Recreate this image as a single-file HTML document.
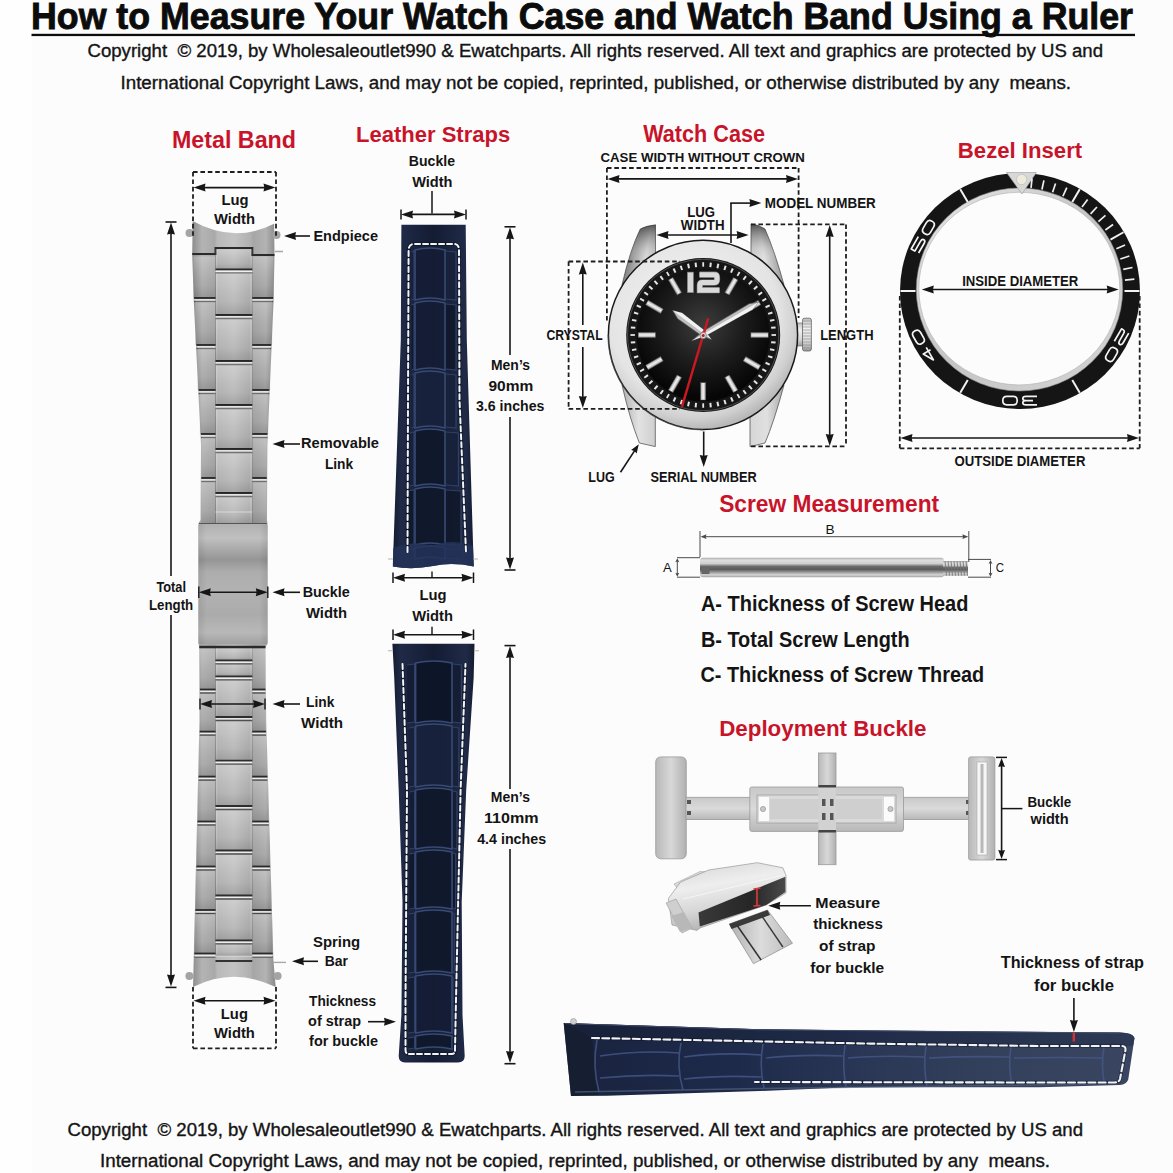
<!DOCTYPE html>
<html><head><meta charset="utf-8"><title>How to Measure Your Watch Case and Watch Band</title>
<style>html,body{margin:0;padding:0;background:#fdfdfd;width:1173px;height:1173px;overflow:hidden}</style></head>
<body><svg width="1173" height="1173" viewBox="0 0 1173 1173" style="display:block;font-family:'Liberation Sans',sans-serif">
<rect width="1173" height="1173" fill="#fcfcfc"/><rect width="32" height="1173" fill="#fefefe"/>
<rect x="31.5" y="33.8" width="1103.5" height="2.3" fill="#0c0c0c" />
<defs>
<linearGradient id="mbg" x1="0" x2="1" y1="0" y2="0">
<stop offset="0" stop-color="#8c8c8c"/><stop offset="0.12" stop-color="#b4b4b4"/><stop offset="0.27" stop-color="#a9a9a9"/>
<stop offset="0.30" stop-color="#b9b9b9"/><stop offset="0.5" stop-color="#c3c3c3"/><stop offset="0.70" stop-color="#b0b0b0"/>
<stop offset="0.73" stop-color="#a6a6a6"/><stop offset="0.88" stop-color="#b3b3b3"/><stop offset="1" stop-color="#8a8a8a"/>
</linearGradient>
<linearGradient id="clg" x1="0" x2="0" y1="0" y2="1">
<stop offset="0" stop-color="#b0b0b0"/><stop offset="0.12" stop-color="#c0c0c0"/><stop offset="0.22" stop-color="#a8a8a8"/>
<stop offset="0.30" stop-color="#959595"/><stop offset="0.40" stop-color="#adadad"/><stop offset="0.55" stop-color="#b2b2b2"/>
<stop offset="0.75" stop-color="#ababab"/><stop offset="0.9" stop-color="#b8b8b8"/><stop offset="1" stop-color="#a0a0a0"/>
</linearGradient>
<linearGradient id="lsh" x1="0" x2="0" y1="0" y2="1">
<stop offset="0" stop-color="#fff" stop-opacity="0.22"/><stop offset="0.35" stop-color="#fff" stop-opacity="0.05"/>
<stop offset="0.7" stop-color="#000" stop-opacity="0.04"/><stop offset="1" stop-color="#000" stop-opacity="0.16"/></linearGradient>
<linearGradient id="clh" x1="0" x2="1" y1="0" y2="0">
<stop offset="0" stop-color="#000" stop-opacity="0.08"/><stop offset="0.12" stop-color="#000" stop-opacity="0"/>
<stop offset="0.88" stop-color="#000" stop-opacity="0"/><stop offset="1" stop-color="#000" stop-opacity="0.08"/>
</linearGradient>
</defs>
<path d="M 192.7 221 Q 234 244 274.1 223.8 L 274.5 254 L 273.6 300 L 267.4 445 L 267 520 L 267.5 523 L 267.5 644 L 265.5 647 L 266.2 720 L 273.4 960 L 275.7 987 Q 234 966.6 193 987 L 193.7 960 L 199.5 720 L 199.3 647 L 198.5 644 L 198.5 523 L 200.5 520 L 201 445 L 193.7 300 L 192.2 254 L 192.7 221 Z" fill="url(#mbg)"/>
<circle cx="189.5" cy="233" r="4" fill="#a4a4a4"/>
<circle cx="276.5" cy="235" r="4" fill="#a4a4a4"/>
<circle cx="189.4" cy="976" r="4" fill="#a4a4a4"/>
<circle cx="277.6" cy="976" r="4" fill="#a4a4a4"/>
<line x1="275" y1="251.5" x2="283" y2="251.5" stroke="#aaa" stroke-width="1.6" />
<line x1="273" y1="962.4" x2="286" y2="962.4" stroke="#a8a8a8" stroke-width="1.4" />
<line x1="215.5" y1="247" x2="215.5" y2="523" stroke="#8a8a8a" stroke-width="1.0" />
<line x1="215.5" y1="647" x2="215.5" y2="955" stroke="#8a8a8a" stroke-width="1.0" />
<line x1="252.3" y1="247" x2="252.3" y2="523" stroke="#8a8a8a" stroke-width="1.0" />
<line x1="252.3" y1="647" x2="252.3" y2="955" stroke="#8a8a8a" stroke-width="1.0" />
<line x1="216.7" y1="247" x2="216.7" y2="523" stroke="#d0d0d0" stroke-width="0.8" />
<line x1="216.7" y1="647" x2="216.7" y2="955" stroke="#d0d0d0" stroke-width="0.8" />
<line x1="251.1" y1="247" x2="251.1" y2="523" stroke="#cfcfcf" stroke-width="0.8" />
<line x1="251.1" y1="647" x2="251.1" y2="955" stroke="#cfcfcf" stroke-width="0.8" />
<path d="M 192.2 254 L 215.5 254 L 215.5 248 L 252.3 248 L 252.3 255 L 274.48 255" stroke="#2a2a2a" stroke-width="2" fill="none"/>
<line x1="194.13" y1="298" x2="215.5" y2="298" stroke="#2a2a2a" stroke-width="1.8" />
<line x1="194.13" y1="299.9" x2="215.5" y2="299.9" stroke="#ececec" stroke-width="1.3" />
<line x1="194.13" y1="301.5" x2="215.5" y2="301.5" stroke="#4a4a4a" stroke-width="1.3" />
<line x1="252.3" y1="298" x2="273.14" y2="298" stroke="#2a2a2a" stroke-width="1.8" />
<line x1="252.3" y1="299.9" x2="273.14" y2="299.9" stroke="#ececec" stroke-width="1.3" />
<line x1="252.3" y1="301.5" x2="273.14" y2="301.5" stroke="#4a4a4a" stroke-width="1.3" />
<line x1="196.47" y1="345" x2="215.5" y2="345" stroke="#2a2a2a" stroke-width="1.8" />
<line x1="196.47" y1="346.9" x2="215.5" y2="346.9" stroke="#ececec" stroke-width="1.3" />
<line x1="196.47" y1="348.5" x2="215.5" y2="348.5" stroke="#4a4a4a" stroke-width="1.3" />
<line x1="252.3" y1="345" x2="271.18" y2="345" stroke="#2a2a2a" stroke-width="1.8" />
<line x1="252.3" y1="346.9" x2="271.18" y2="346.9" stroke="#ececec" stroke-width="1.3" />
<line x1="252.3" y1="348.5" x2="271.18" y2="348.5" stroke="#4a4a4a" stroke-width="1.3" />
<line x1="198.73" y1="390" x2="215.5" y2="390" stroke="#2a2a2a" stroke-width="1.8" />
<line x1="198.73" y1="391.9" x2="215.5" y2="391.9" stroke="#ececec" stroke-width="1.3" />
<line x1="198.73" y1="393.5" x2="215.5" y2="393.5" stroke="#4a4a4a" stroke-width="1.3" />
<line x1="252.3" y1="390" x2="269.25" y2="390" stroke="#2a2a2a" stroke-width="1.8" />
<line x1="252.3" y1="391.9" x2="269.25" y2="391.9" stroke="#ececec" stroke-width="1.3" />
<line x1="252.3" y1="393.5" x2="269.25" y2="393.5" stroke="#4a4a4a" stroke-width="1.3" />
<line x1="200.95" y1="434" x2="215.5" y2="434" stroke="#2a2a2a" stroke-width="1.8" />
<line x1="200.95" y1="435.9" x2="215.5" y2="435.9" stroke="#ececec" stroke-width="1.3" />
<line x1="200.95" y1="437.5" x2="215.5" y2="437.5" stroke="#4a4a4a" stroke-width="1.3" />
<line x1="252.3" y1="434" x2="267.37" y2="434" stroke="#2a2a2a" stroke-width="1.8" />
<line x1="252.3" y1="435.9" x2="267.37" y2="435.9" stroke="#ececec" stroke-width="1.3" />
<line x1="252.3" y1="437.5" x2="267.37" y2="437.5" stroke="#4a4a4a" stroke-width="1.3" />
<line x1="201.28" y1="478" x2="215.5" y2="478" stroke="#2a2a2a" stroke-width="1.8" />
<line x1="201.28" y1="479.9" x2="215.5" y2="479.9" stroke="#ececec" stroke-width="1.3" />
<line x1="201.28" y1="481.5" x2="215.5" y2="481.5" stroke="#4a4a4a" stroke-width="1.3" />
<line x1="252.3" y1="478" x2="266.72" y2="478" stroke="#2a2a2a" stroke-width="1.8" />
<line x1="252.3" y1="479.9" x2="266.72" y2="479.9" stroke="#ececec" stroke-width="1.3" />
<line x1="252.3" y1="481.5" x2="266.72" y2="481.5" stroke="#4a4a4a" stroke-width="1.3" />
<line x1="215.5" y1="269.4" x2="252.3" y2="269.4" stroke="#2e2e2e" stroke-width="1.8" />
<line x1="215.5" y1="271.3" x2="252.3" y2="271.3" stroke="#ececec" stroke-width="1.3" />
<line x1="215.5" y1="272.9" x2="252.3" y2="272.9" stroke="#505050" stroke-width="1.3" />
<line x1="215.5" y1="315" x2="252.3" y2="315" stroke="#2e2e2e" stroke-width="1.8" />
<line x1="215.5" y1="316.9" x2="252.3" y2="316.9" stroke="#ececec" stroke-width="1.3" />
<line x1="215.5" y1="318.5" x2="252.3" y2="318.5" stroke="#505050" stroke-width="1.3" />
<line x1="215.5" y1="361" x2="252.3" y2="361" stroke="#2e2e2e" stroke-width="1.8" />
<line x1="215.5" y1="362.9" x2="252.3" y2="362.9" stroke="#ececec" stroke-width="1.3" />
<line x1="215.5" y1="364.5" x2="252.3" y2="364.5" stroke="#505050" stroke-width="1.3" />
<line x1="215.5" y1="405" x2="252.3" y2="405" stroke="#2e2e2e" stroke-width="1.8" />
<line x1="215.5" y1="406.9" x2="252.3" y2="406.9" stroke="#ececec" stroke-width="1.3" />
<line x1="215.5" y1="408.5" x2="252.3" y2="408.5" stroke="#505050" stroke-width="1.3" />
<line x1="215.5" y1="449" x2="252.3" y2="449" stroke="#2e2e2e" stroke-width="1.8" />
<line x1="215.5" y1="450.9" x2="252.3" y2="450.9" stroke="#ececec" stroke-width="1.3" />
<line x1="215.5" y1="452.5" x2="252.3" y2="452.5" stroke="#505050" stroke-width="1.3" />
<line x1="215.5" y1="493" x2="252.3" y2="493" stroke="#2e2e2e" stroke-width="1.8" />
<line x1="215.5" y1="494.9" x2="252.3" y2="494.9" stroke="#ececec" stroke-width="1.3" />
<line x1="215.5" y1="496.5" x2="252.3" y2="496.5" stroke="#505050" stroke-width="1.3" />
<line x1="215.5" y1="512" x2="252.3" y2="512" stroke="#e0e0e0" stroke-width="1.2" />
<rect x="215.5" y="249.5" width="36.8" height="19.9" fill="url(#lsh)"/>
<rect x="215.5" y="270.9" width="36.8" height="44.1" fill="url(#lsh)"/>
<rect x="215.5" y="316.5" width="36.8" height="44.5" fill="url(#lsh)"/>
<rect x="215.5" y="362.5" width="36.8" height="42.5" fill="url(#lsh)"/>
<rect x="215.5" y="406.5" width="36.8" height="42.5" fill="url(#lsh)"/>
<rect x="215.5" y="450.5" width="36.8" height="42.5" fill="url(#lsh)"/>
<rect x="215.5" y="494.5" width="36.8" height="28.5" fill="url(#lsh)"/>
<rect x="193.43" y="256.5" width="22.07" height="41.5" fill="url(#lsh)"/>
<rect x="195.28" y="299.5" width="20.22" height="45.5" fill="url(#lsh)"/>
<rect x="197.6" y="346.5" width="17.9" height="43.5" fill="url(#lsh)"/>
<rect x="199.84" y="391.5" width="15.66" height="42.5" fill="url(#lsh)"/>
<rect x="201.43" y="435.5" width="14.07" height="42.5" fill="url(#lsh)"/>
<rect x="201.13" y="479.5" width="14.37" height="43.5" fill="url(#lsh)"/>
<rect x="252.3" y="256.5" width="21.26" height="41.5" fill="url(#lsh)"/>
<rect x="252.3" y="299.5" width="19.88" height="45.5" fill="url(#lsh)"/>
<rect x="252.3" y="346.5" width="17.91" height="43.5" fill="url(#lsh)"/>
<rect x="252.3" y="391.5" width="16.01" height="42.5" fill="url(#lsh)"/>
<rect x="252.3" y="435.5" width="14.54" height="42.5" fill="url(#lsh)"/>
<rect x="252.3" y="479.5" width="14.3" height="43.5" fill="url(#lsh)"/>
<rect x="215.5" y="648.5" width="36.8" height="11.9" fill="url(#lsh)"/>
<rect x="215.5" y="661.9" width="36.8" height="14.5" fill="url(#lsh)"/>
<rect x="215.5" y="677.9" width="36.8" height="39.1" fill="url(#lsh)"/>
<rect x="215.5" y="718.5" width="36.8" height="42.1" fill="url(#lsh)"/>
<rect x="215.5" y="762.1" width="36.8" height="43.9" fill="url(#lsh)"/>
<rect x="215.5" y="807.5" width="36.8" height="43" fill="url(#lsh)"/>
<rect x="215.5" y="852" width="36.8" height="43.5" fill="url(#lsh)"/>
<rect x="215.5" y="897" width="36.8" height="43.4" fill="url(#lsh)"/>
<rect x="215.5" y="941.9" width="36.8" height="14.1" fill="url(#lsh)"/>
<rect x="199.86" y="648.5" width="15.64" height="41" fill="url(#lsh)"/>
<rect x="199.97" y="691" width="15.53" height="40.6" fill="url(#lsh)"/>
<rect x="199.18" y="733.1" width="16.32" height="43.5" fill="url(#lsh)"/>
<rect x="198.09" y="778.1" width="17.41" height="43.4" fill="url(#lsh)"/>
<rect x="197" y="823" width="18.5" height="43.5" fill="url(#lsh)"/>
<rect x="195.93" y="868" width="19.57" height="42" fill="url(#lsh)"/>
<rect x="194.88" y="911.5" width="20.62" height="42" fill="url(#lsh)"/>
<rect x="252.3" y="648.5" width="12.9" height="41" fill="url(#lsh)"/>
<rect x="252.3" y="691" width="13.31" height="40.6" fill="url(#lsh)"/>
<rect x="252.3" y="733.1" width="14.42" height="43.5" fill="url(#lsh)"/>
<rect x="252.3" y="778.1" width="15.77" height="43.4" fill="url(#lsh)"/>
<rect x="252.3" y="823" width="17.12" height="43.5" fill="url(#lsh)"/>
<rect x="252.3" y="868" width="18.45" height="42" fill="url(#lsh)"/>
<rect x="252.3" y="911.5" width="19.75" height="42" fill="url(#lsh)"/>
<rect x="198.5" y="523.5" width="69" height="121" rx="2" fill="url(#clg)"/>
<rect x="198.5" y="523.5" width="69" height="121" rx="2" fill="url(#clh)"/>
<line x1="199" y1="523.5" x2="267" y2="523.5" stroke="#555" stroke-width="1.0" />
<line x1="199.3" y1="647" x2="265.5" y2="647" stroke="#2a2a2a" stroke-width="2.5" />
<line x1="215.5" y1="660.4" x2="252.3" y2="660.4" stroke="#2e2e2e" stroke-width="1.8" />
<line x1="215.5" y1="662.3" x2="252.3" y2="662.3" stroke="#ececec" stroke-width="1.3" />
<line x1="215.5" y1="663.9" x2="252.3" y2="663.9" stroke="#505050" stroke-width="1.3" />
<line x1="215.5" y1="676.4" x2="252.3" y2="676.4" stroke="#2e2e2e" stroke-width="1.8" />
<line x1="215.5" y1="678.3" x2="252.3" y2="678.3" stroke="#ececec" stroke-width="1.3" />
<line x1="215.5" y1="679.9" x2="252.3" y2="679.9" stroke="#505050" stroke-width="1.3" />
<line x1="215.5" y1="717" x2="252.3" y2="717" stroke="#2e2e2e" stroke-width="1.8" />
<line x1="215.5" y1="718.9" x2="252.3" y2="718.9" stroke="#ececec" stroke-width="1.3" />
<line x1="215.5" y1="720.5" x2="252.3" y2="720.5" stroke="#505050" stroke-width="1.3" />
<line x1="215.5" y1="760.6" x2="252.3" y2="760.6" stroke="#2e2e2e" stroke-width="1.8" />
<line x1="215.5" y1="762.5" x2="252.3" y2="762.5" stroke="#ececec" stroke-width="1.3" />
<line x1="215.5" y1="764.1" x2="252.3" y2="764.1" stroke="#505050" stroke-width="1.3" />
<line x1="215.5" y1="806" x2="252.3" y2="806" stroke="#2e2e2e" stroke-width="1.8" />
<line x1="215.5" y1="807.9" x2="252.3" y2="807.9" stroke="#ececec" stroke-width="1.3" />
<line x1="215.5" y1="809.5" x2="252.3" y2="809.5" stroke="#505050" stroke-width="1.3" />
<line x1="215.5" y1="850.5" x2="252.3" y2="850.5" stroke="#2e2e2e" stroke-width="1.8" />
<line x1="215.5" y1="852.4" x2="252.3" y2="852.4" stroke="#ececec" stroke-width="1.3" />
<line x1="215.5" y1="854" x2="252.3" y2="854" stroke="#505050" stroke-width="1.3" />
<line x1="215.5" y1="895.5" x2="252.3" y2="895.5" stroke="#2e2e2e" stroke-width="1.8" />
<line x1="215.5" y1="897.4" x2="252.3" y2="897.4" stroke="#ececec" stroke-width="1.3" />
<line x1="215.5" y1="899" x2="252.3" y2="899" stroke="#505050" stroke-width="1.3" />
<line x1="215.5" y1="940.4" x2="252.3" y2="940.4" stroke="#2e2e2e" stroke-width="1.8" />
<line x1="215.5" y1="942.3" x2="252.3" y2="942.3" stroke="#ececec" stroke-width="1.3" />
<line x1="215.5" y1="943.9" x2="252.3" y2="943.9" stroke="#505050" stroke-width="1.3" />
<line x1="199.92" y1="689.5" x2="215.5" y2="689.5" stroke="#2a2a2a" stroke-width="1.8" />
<line x1="199.92" y1="691.4" x2="215.5" y2="691.4" stroke="#ececec" stroke-width="1.3" />
<line x1="199.92" y1="693" x2="215.5" y2="693" stroke="#4a4a4a" stroke-width="1.3" />
<line x1="252.3" y1="689.5" x2="265.41" y2="689.5" stroke="#2a2a2a" stroke-width="1.8" />
<line x1="252.3" y1="691.4" x2="265.41" y2="691.4" stroke="#ececec" stroke-width="1.3" />
<line x1="252.3" y1="693" x2="265.41" y2="693" stroke="#4a4a4a" stroke-width="1.3" />
<line x1="199.72" y1="731.6" x2="215.5" y2="731.6" stroke="#2a2a2a" stroke-width="1.8" />
<line x1="199.72" y1="733.5" x2="215.5" y2="733.5" stroke="#ececec" stroke-width="1.3" />
<line x1="199.72" y1="735.1" x2="215.5" y2="735.1" stroke="#4a4a4a" stroke-width="1.3" />
<line x1="252.3" y1="731.6" x2="266.05" y2="731.6" stroke="#2a2a2a" stroke-width="1.8" />
<line x1="252.3" y1="733.5" x2="266.05" y2="733.5" stroke="#ececec" stroke-width="1.3" />
<line x1="252.3" y1="735.1" x2="266.05" y2="735.1" stroke="#4a4a4a" stroke-width="1.3" />
<line x1="198.63" y1="776.6" x2="215.5" y2="776.6" stroke="#2a2a2a" stroke-width="1.8" />
<line x1="198.63" y1="778.5" x2="215.5" y2="778.5" stroke="#ececec" stroke-width="1.3" />
<line x1="198.63" y1="780.1" x2="215.5" y2="780.1" stroke="#4a4a4a" stroke-width="1.3" />
<line x1="252.3" y1="776.6" x2="267.4" y2="776.6" stroke="#2a2a2a" stroke-width="1.8" />
<line x1="252.3" y1="778.5" x2="267.4" y2="778.5" stroke="#ececec" stroke-width="1.3" />
<line x1="252.3" y1="780.1" x2="267.4" y2="780.1" stroke="#4a4a4a" stroke-width="1.3" />
<line x1="197.55" y1="821.5" x2="215.5" y2="821.5" stroke="#2a2a2a" stroke-width="1.8" />
<line x1="197.55" y1="823.4" x2="215.5" y2="823.4" stroke="#ececec" stroke-width="1.3" />
<line x1="197.55" y1="825" x2="215.5" y2="825" stroke="#4a4a4a" stroke-width="1.3" />
<line x1="252.3" y1="821.5" x2="268.75" y2="821.5" stroke="#2a2a2a" stroke-width="1.8" />
<line x1="252.3" y1="823.4" x2="268.75" y2="823.4" stroke="#ececec" stroke-width="1.3" />
<line x1="252.3" y1="825" x2="268.75" y2="825" stroke="#4a4a4a" stroke-width="1.3" />
<line x1="196.46" y1="866.5" x2="215.5" y2="866.5" stroke="#2a2a2a" stroke-width="1.8" />
<line x1="196.46" y1="868.4" x2="215.5" y2="868.4" stroke="#ececec" stroke-width="1.3" />
<line x1="196.46" y1="870" x2="215.5" y2="870" stroke="#4a4a4a" stroke-width="1.3" />
<line x1="252.3" y1="866.5" x2="270.09" y2="866.5" stroke="#2a2a2a" stroke-width="1.8" />
<line x1="252.3" y1="868.4" x2="270.09" y2="868.4" stroke="#ececec" stroke-width="1.3" />
<line x1="252.3" y1="870" x2="270.09" y2="870" stroke="#4a4a4a" stroke-width="1.3" />
<line x1="195.41" y1="910" x2="215.5" y2="910" stroke="#2a2a2a" stroke-width="1.8" />
<line x1="195.41" y1="911.9" x2="215.5" y2="911.9" stroke="#ececec" stroke-width="1.3" />
<line x1="195.41" y1="913.5" x2="215.5" y2="913.5" stroke="#4a4a4a" stroke-width="1.3" />
<line x1="252.3" y1="910" x2="271.4" y2="910" stroke="#2a2a2a" stroke-width="1.8" />
<line x1="252.3" y1="911.9" x2="271.4" y2="911.9" stroke="#ececec" stroke-width="1.3" />
<line x1="252.3" y1="913.5" x2="271.4" y2="913.5" stroke="#4a4a4a" stroke-width="1.3" />
<line x1="194.36" y1="953.5" x2="215.5" y2="953.5" stroke="#2a2a2a" stroke-width="1.8" />
<line x1="194.36" y1="955.4" x2="215.5" y2="955.4" stroke="#ececec" stroke-width="1.3" />
<line x1="194.36" y1="957" x2="215.5" y2="957" stroke="#4a4a4a" stroke-width="1.3" />
<line x1="252.3" y1="953.5" x2="272.7" y2="953.5" stroke="#2a2a2a" stroke-width="1.8" />
<line x1="252.3" y1="955.4" x2="272.7" y2="955.4" stroke="#ececec" stroke-width="1.3" />
<line x1="252.3" y1="957" x2="272.7" y2="957" stroke="#4a4a4a" stroke-width="1.3" />
<line x1="215.5" y1="961" x2="252.3" y2="961" stroke="#333" stroke-width="1.8" />
<line x1="194.8" y1="956.2" x2="272.28" y2="956.2" stroke="#e0e0e0" stroke-width="0.8" />
<line x1="193" y1="172" x2="276" y2="172" stroke="#1e1e1e" stroke-width="1.8" stroke-dasharray="4.6 2.8"/>
<line x1="193" y1="172" x2="193" y2="236" stroke="#1e1e1e" stroke-width="1.8" stroke-dasharray="4.6 2.8"/>
<line x1="276" y1="172" x2="276" y2="236" stroke="#1e1e1e" stroke-width="1.8" stroke-dasharray="4.6 2.8"/>
<line x1="193" y1="987" x2="193" y2="1048.3" stroke="#1e1e1e" stroke-width="1.8" stroke-dasharray="4.6 2.8"/>
<line x1="276" y1="987" x2="276" y2="1048.3" stroke="#1e1e1e" stroke-width="1.8" stroke-dasharray="4.6 2.8"/>
<line x1="193" y1="1048.3" x2="276" y2="1048.3" stroke="#1e1e1e" stroke-width="1.8" stroke-dasharray="4.6 2.8"/>
<line x1="203.5" y1="187.6" x2="265.5" y2="187.6" stroke="#161616" stroke-width="1.6" />
<polygon points="193.5,187.6 205.5,183.6 204.7,187.6 205.5,191.6" fill="#161616"/>
<polygon points="275.5,187.6 263.5,191.6 264.3,187.6 263.5,183.6" fill="#161616"/>
<line x1="203.5" y1="1000.7" x2="265.5" y2="1000.7" stroke="#161616" stroke-width="1.6" />
<polygon points="193.5,1000.7 205.5,996.7 204.7,1000.7 205.5,1004.7" fill="#161616"/>
<polygon points="275.5,1000.7 263.5,1004.7 264.3,1000.7 263.5,996.7" fill="#161616"/>
<line x1="165.5" y1="222" x2="176.5" y2="222" stroke="#161616" stroke-width="1.6" />
<line x1="165.5" y1="987.4" x2="176.5" y2="987.4" stroke="#161616" stroke-width="1.6" />
<line x1="171" y1="232.5" x2="171" y2="576" stroke="#161616" stroke-width="1.6" />
<polygon points="171,222.5 175,234.5 171,233.7 167,234.5" fill="#161616"/>
<line x1="171" y1="615" x2="171" y2="976.5" stroke="#161616" stroke-width="1.6" />
<polygon points="171,986.5 167,974.5 171,975.3 175,974.5" fill="#161616"/>
<line x1="294" y1="236" x2="310" y2="236" stroke="#161616" stroke-width="1.6" />
<polygon points="284,236 296,232 295.2,236 296,240" fill="#161616"/>
<line x1="282.5" y1="444" x2="300" y2="444" stroke="#161616" stroke-width="1.6" />
<polygon points="272.5,444 284.5,440 283.7,444 284.5,448" fill="#161616"/>
<line x1="208.8" y1="592.3" x2="257.8" y2="592.3" stroke="#161616" stroke-width="1.6" />
<polygon points="198.8,592.3 210.8,588.3 210,592.3 210.8,596.3" fill="#161616"/>
<polygon points="267.8,592.3 255.8,596.3 256.6,592.3 255.8,588.3" fill="#161616"/>
<line x1="198.8" y1="586.5" x2="198.8" y2="598" stroke="#161616" stroke-width="1.4" />
<line x1="267.8" y1="586.5" x2="267.8" y2="598" stroke="#161616" stroke-width="1.4" />
<line x1="282.5" y1="592.3" x2="300" y2="592.3" stroke="#161616" stroke-width="1.6" />
<polygon points="272.5,592.3 284.5,588.3 283.7,592.3 284.5,596.3" fill="#161616"/>
<line x1="210" y1="704" x2="255" y2="704" stroke="#161616" stroke-width="1.6" />
<polygon points="200,704 212,700 211.2,704 212,708" fill="#161616"/>
<polygon points="265,704 253,708 253.8,704 253,700" fill="#161616"/>
<line x1="200" y1="698.5" x2="200" y2="709.5" stroke="#161616" stroke-width="1.4" />
<line x1="265" y1="698.5" x2="265" y2="709.5" stroke="#161616" stroke-width="1.4" />
<line x1="282.5" y1="704" x2="300" y2="704" stroke="#161616" stroke-width="1.6" />
<polygon points="272.5,704 284.5,700 283.7,704 284.5,708" fill="#161616"/>
<line x1="302" y1="961.3" x2="318" y2="961.3" stroke="#161616" stroke-width="1.6" />
<polygon points="292,961.3 304,957.3 303.2,961.3 304,965.3" fill="#161616"/>
<defs>
<linearGradient id="lg1" x1="0" x2="1" y1="0" y2="0">
<stop offset="0" stop-color="#141c30"/><stop offset="0.1" stop-color="#202a47"/><stop offset="0.5" stop-color="#141c33"/>
<stop offset="0.9" stop-color="#202a47"/><stop offset="1" stop-color="#141c30"/></linearGradient>
</defs>
<path d="M 401.4 224.7 L 465.7 224.7 L 466.8 340 L 473.5 560 L 473.8 566.5 Q 452 562 433 566 Q 412 570 392.9 566.5 L 393 560 L 400.8 340 Z" fill="url(#lg1)"/>
<path d="M 415 250 Q 430.0 246 445 250 L 445 300 Q 430.0 296 415 300 Z" fill="#141d35" stroke="#3a4d78" stroke-width="1.6" opacity="0.95"/>
<path d="M 411.6 252 L 414 251 L 414 299 L 411.6 300" fill="#18213a" stroke="#33456e" stroke-width="1.2" opacity="0.85"/>
<path d="M 446 251 L 456 252 L 456 300 L 446 299" fill="#18213a" stroke="#33456e" stroke-width="1.2" opacity="0.85"/>
<path d="M 415 303 Q 430.0 299 445 303 L 445 370 Q 430.0 366 415 370 Z" fill="#141d35" stroke="#3a4d78" stroke-width="1.6" opacity="0.95"/>
<path d="M 411.6 305 L 414 304 L 414 369 L 411.6 370" fill="#10172a" stroke="#33456e" stroke-width="1.2" opacity="0.85"/>
<path d="M 446 304 L 456 305 L 456 370 L 446 369" fill="#10172a" stroke="#33456e" stroke-width="1.2" opacity="0.85"/>
<path d="M 415 373 Q 430.0 369 445 373 L 445 428 Q 430.0 424 415 428 Z" fill="#18223c" stroke="#3a4d78" stroke-width="1.6" opacity="0.95"/>
<path d="M 411.6 375 L 414 374 L 414 427 L 411.6 428" fill="#18213a" stroke="#33456e" stroke-width="1.2" opacity="0.85"/>
<path d="M 446 374 L 456.0 375 L 456.0 428 L 446 427" fill="#18213a" stroke="#33456e" stroke-width="1.2" opacity="0.85"/>
<path d="M 415 431 Q 430.0 427 445 431 L 445 486 Q 430.0 482 415 486 Z" fill="#10182c" stroke="#3a4d78" stroke-width="1.6" opacity="0.95"/>
<path d="M 409.1197368421053 433 L 414 432 L 414 485 L 409.1197368421053 486" fill="#18213a" stroke="#33456e" stroke-width="1.2" opacity="0.85"/>
<path d="M 446 432 L 458.48026315789474 433 L 458.48026315789474 486 L 446 485" fill="#18213a" stroke="#33456e" stroke-width="1.2" opacity="0.85"/>
<path d="M 415 489 Q 430.0 485 445 489 L 445 545 Q 430.0 541 415 545 Z" fill="#10182c" stroke="#3a4d78" stroke-width="1.6" opacity="0.95"/>
<path d="M 406.6180921052632 491 L 414 490 L 414 544 L 406.6180921052632 545" fill="#10172a" stroke="#33456e" stroke-width="1.2" opacity="0.85"/>
<path d="M 446 490 L 460.9819078947368 491 L 460.9819078947368 545 L 446 544" fill="#10172a" stroke="#33456e" stroke-width="1.2" opacity="0.85"/>
<path d="M 415 548 Q 430.0 544 445 548 L 445 559 Q 430.0 555 415 559 Z" fill="#0d1528" stroke="#3a4d78" stroke-width="1.6" opacity="0.95"/>
<path d="M 405.0572368421053 550 L 414 549 L 414 558 L 405.0572368421053 559" fill="#18213a" stroke="#33456e" stroke-width="1.2" opacity="0.85"/>
<path d="M 446 549 L 462.54276315789474 550 L 462.54276315789474 559 L 446 558" fill="#18213a" stroke="#33456e" stroke-width="1.2" opacity="0.85"/>
<path d="M 393.2 548 Q 415 540 432 546 Q 452 538 473 546 L 473.8 566.5 Q 452 562 433 566 Q 412 570 392.9 566.5 Z" fill="#24325a" opacity="0.85"/>
<path d="M 407.5 552 L 408 400 L 408.6 250 Q 408.8 244 414 244 L 454 244 Q 459 244 459 250 L 459.5 400 L 466 552" stroke="#0a0f1c" stroke-width="3.6" fill="none" opacity="0.55"/><path d="M 407.5 552 L 408 400 L 408.6 250 Q 408.8 244 414 244 L 454 244 Q 459 244 459 250 L 459.5 400 L 466 552" stroke="#f2f4f8" stroke-width="2.0" fill="none" stroke-dasharray="5 3" stroke-linecap="round"/>
<line x1="388" y1="559" x2="393" y2="559" stroke="#c0c0c0" stroke-width="1.2" />
<line x1="473.5" y1="559" x2="478" y2="559" stroke="#c0c0c0" stroke-width="1.2" />
<path d="M 392.4 643.7 L 474.5 643.7 L 473.7 677 L 466.2 790 L 461.7 902 L 462.5 1015 L 464.7 1056 Q 464.7 1062 458 1062.5 L 405 1062.5 Q 398.7 1062 398.7 1056 L 401.4 1015 L 402.5 902 L 398.7 790 L 394.2 677 Z" fill="url(#lg1)"/>
<path d="M 415.6 663 Q 433.8 659 452 663 L 452 723 Q 433.8 719 415.6 723 Z" fill="#0d1528" stroke="#3a4d78" stroke-width="1.6" opacity="0.95"/>
<path d="M 406.9047619047619 665 L 414.6 664 L 414.6 722 L 406.9047619047619 723" fill="#141c32" stroke="#33456e" stroke-width="1.2" opacity="0.85"/>
<path d="M 453 664 L 461.3690476190476 665 L 461.3690476190476 723 L 453 722" fill="#141c32" stroke="#33456e" stroke-width="1.2" opacity="0.85"/>
<path d="M 415.6 726 Q 433.8 722 452 726 L 452 787 Q 433.8 783 415.6 787 Z" fill="#18223c" stroke="#3a4d78" stroke-width="1.6" opacity="0.95"/>
<path d="M 408.92063492063494 728 L 414.6 727 L 414.6 786 L 408.92063492063494 787" fill="#18213a" stroke="#33456e" stroke-width="1.2" opacity="0.85"/>
<path d="M 453 727 L 458.8492063492063 728 L 458.8492063492063 787 L 453 786" fill="#18213a" stroke="#33456e" stroke-width="1.2" opacity="0.85"/>
<path d="M 415.6 790 Q 433.8 786 452 790 L 452 849 Q 433.8 845 415.6 849 Z" fill="#10182c" stroke="#3a4d78" stroke-width="1.6" opacity="0.95"/>
<path d="M 409.79285714285714 792 L 414.6 791 L 414.6 848 L 409.79285714285714 849" fill="#141c32" stroke="#33456e" stroke-width="1.2" opacity="0.85"/>
<path d="M 453 791 L 456.96476190476193 792 L 456.96476190476193 849 L 453 848" fill="#141c32" stroke="#33456e" stroke-width="1.2" opacity="0.85"/>
<path d="M 415.6 852 Q 433.8 848 452 852 L 452 909 Q 433.8 905 415.6 909 Z" fill="#10182c" stroke="#3a4d78" stroke-width="1.6" opacity="0.95"/>
<path d="M 409.35714285714283 854 L 414.6 853 L 414.6 908 L 409.35714285714283 909" fill="#10172a" stroke="#33456e" stroke-width="1.2" opacity="0.85"/>
<path d="M 453 853 L 455.62857142857143 854 L 455.62857142857143 909 L 453 908" fill="#10172a" stroke="#33456e" stroke-width="1.2" opacity="0.85"/>
<path d="M 415.6 912 Q 433.8 908 452 912 L 452 973 Q 433.8 969 415.6 973 Z" fill="#10182c" stroke="#3a4d78" stroke-width="1.6" opacity="0.95"/>
<path d="M 408.9142857142857 914 L 414.6 913 L 414.6 972 L 408.9142857142857 973" fill="#18213a" stroke="#33456e" stroke-width="1.2" opacity="0.85"/>
<path d="M 453 913 L 454.2704761904762 914 L 454.2704761904762 973 L 453 972" fill="#18213a" stroke="#33456e" stroke-width="1.2" opacity="0.85"/>
<path d="M 415.6 976 Q 433.8 972 452 976 L 452 1033 Q 433.8 1029 415.6 1033 Z" fill="#141d35" stroke="#3a4d78" stroke-width="1.6" opacity="0.95"/>
<path d="M 408.4714285714286 978 L 414.6 977 L 414.6 1032 L 408.4714285714286 1033" fill="#141c32" stroke="#33456e" stroke-width="1.2" opacity="0.85"/>
<path d="M 453 977 L 452.912380952381 978 L 452.912380952381 1033 L 453 1032" fill="#141c32" stroke="#33456e" stroke-width="1.2" opacity="0.85"/>
<path d="M 415.6 1036 Q 433.8 1032 452 1036 L 452 1049 Q 433.8 1045 415.6 1049 Z" fill="#10182c" stroke="#3a4d78" stroke-width="1.6" opacity="0.95"/>
<path d="M 408.2 1038 L 414.6 1037 L 414.6 1048 L 408.2 1049" fill="#10172a" stroke="#33456e" stroke-width="1.2" opacity="0.85"/>
<path d="M 453 1037 L 452.08000000000004 1038 L 452.08000000000004 1049 L 453 1048" fill="#10172a" stroke="#33456e" stroke-width="1.2" opacity="0.85"/>
<path d="M 402.5 664 L 407 790 L 405.5 1000 L 405.5 1050 Q 405.5 1054 409 1054 L 452 1054 Q 455 1054 455 1050 L 456 1000 L 460.6 790 L 465.5 664" stroke="#0a0f1c" stroke-width="3.6" fill="none" opacity="0.55"/><path d="M 402.5 664 L 407 790 L 405.5 1000 L 405.5 1050 Q 405.5 1054 409 1054 L 452 1054 Q 455 1054 455 1050 L 456 1000 L 460.6 790 L 465.5 664" stroke="#f2f4f8" stroke-width="2.0" fill="none" stroke-dasharray="5 3" stroke-linecap="round"/>
<line x1="388" y1="650.7" x2="392.4" y2="650.7" stroke="#c0c0c0" stroke-width="1.2" />
<line x1="474.5" y1="650.7" x2="479" y2="650.7" stroke="#c0c0c0" stroke-width="1.2" />
<line x1="432" y1="191" x2="432" y2="213.5" stroke="#161616" stroke-width="1.5" />
<line x1="411" y1="214.4" x2="456" y2="214.4" stroke="#161616" stroke-width="1.6" />
<polygon points="401,214.4 413,210.4 412.2,214.4 413,218.4" fill="#161616"/>
<polygon points="466,214.4 454,218.4 454.8,214.4 454,210.4" fill="#161616"/>
<line x1="401" y1="209.5" x2="401" y2="219.5" stroke="#161616" stroke-width="1.5" />
<line x1="466" y1="209.5" x2="466" y2="219.5" stroke="#161616" stroke-width="1.5" />
<line x1="504.5" y1="226.8" x2="515.5" y2="226.8" stroke="#161616" stroke-width="1.6" />
<line x1="510" y1="237.3" x2="510" y2="355" stroke="#161616" stroke-width="1.6" />
<polygon points="510,227.3 514,239.3 510,238.5 506,239.3" fill="#161616"/>
<line x1="510" y1="417" x2="510" y2="559.5" stroke="#161616" stroke-width="1.6" />
<polygon points="510,569.5 506,557.5 510,558.3 514,557.5" fill="#161616"/>
<line x1="504.5" y1="570" x2="515.5" y2="570" stroke="#161616" stroke-width="1.6" />
<line x1="403" y1="577.8" x2="463.5" y2="577.8" stroke="#161616" stroke-width="1.6" />
<polygon points="393,577.8 405,573.8 404.2,577.8 405,581.8" fill="#161616"/>
<polygon points="473.5,577.8 461.5,581.8 462.3,577.8 461.5,573.8" fill="#161616"/>
<line x1="393" y1="572.5" x2="393" y2="583" stroke="#161616" stroke-width="1.5" />
<line x1="473.5" y1="572.5" x2="473.5" y2="583" stroke="#161616" stroke-width="1.5" />
<line x1="432" y1="571.5" x2="432" y2="577.8" stroke="#161616" stroke-width="1.4" />
<line x1="403" y1="634.7" x2="463.5" y2="634.7" stroke="#161616" stroke-width="1.6" />
<polygon points="393,634.7 405,630.7 404.2,634.7 405,638.7" fill="#161616"/>
<polygon points="473.5,634.7 461.5,638.7 462.3,634.7 461.5,630.7" fill="#161616"/>
<line x1="393" y1="629.5" x2="393" y2="640" stroke="#161616" stroke-width="1.5" />
<line x1="473.5" y1="629.5" x2="473.5" y2="640" stroke="#161616" stroke-width="1.5" />
<line x1="432" y1="626.7" x2="432" y2="634.7" stroke="#161616" stroke-width="1.4" />
<line x1="504.5" y1="645.6" x2="515.5" y2="645.6" stroke="#161616" stroke-width="1.6" />
<line x1="510" y1="656" x2="510" y2="789" stroke="#161616" stroke-width="1.6" />
<polygon points="510,646 514,658 510,657.2 506,658" fill="#161616"/>
<line x1="510" y1="849" x2="510" y2="1053" stroke="#161616" stroke-width="1.6" />
<polygon points="510,1063 506,1051 510,1051.8 514,1051" fill="#161616"/>
<line x1="504.5" y1="1063.7" x2="515.5" y2="1063.7" stroke="#161616" stroke-width="1.6" />
<line x1="368" y1="1021.7" x2="386" y2="1021.7" stroke="#161616" stroke-width="1.6" />
<polygon points="396,1021.7 384,1025.7 384.8,1021.7 384,1017.7" fill="#161616"/>
<defs>
<linearGradient id="lugg" x1="0" x2="1" y1="0" y2="0">
<stop offset="0" stop-color="#9a9a9a"/><stop offset="0.35" stop-color="#e6e6e6"/><stop offset="0.7" stop-color="#f4f4f4"/><stop offset="1" stop-color="#b0b0b0"/></linearGradient>
<linearGradient id="lugL" x1="0" x2="1" y1="0" y2="0.3">
<stop offset="0" stop-color="#4a4a4a"/><stop offset="0.45" stop-color="#9c9c9c"/><stop offset="0.8" stop-color="#d8d8d8"/><stop offset="1" stop-color="#c4c4c4"/></linearGradient>
<linearGradient id="lugR" x1="0" x2="1" y1="0.3" y2="0">
<stop offset="0" stop-color="#d0d0d0"/><stop offset="0.3" stop-color="#e0e0e0"/><stop offset="0.7" stop-color="#a0a0a0"/><stop offset="1" stop-color="#5a5a5a"/></linearGradient>
<linearGradient id="lugtop" gradientUnits="userSpaceOnUse" x1="0" x2="0" y1="224" y2="262">
<stop offset="0" stop-color="#222" stop-opacity="0.75"/><stop offset="0.45" stop-color="#555" stop-opacity="0.3"/><stop offset="1" stop-color="#fff" stop-opacity="0"/></linearGradient>
<linearGradient id="lugLb" x1="0" x2="1" y1="0" y2="0">
<stop offset="0" stop-color="#b0b0b0"/><stop offset="0.5" stop-color="#e2e2e2"/><stop offset="1" stop-color="#cfcfcf"/></linearGradient>
<linearGradient id="lugRb" x1="0" x2="1" y1="0" y2="0">
<stop offset="0" stop-color="#d6d6d6"/><stop offset="0.5" stop-color="#e0e0e0"/><stop offset="1" stop-color="#a8a8a8"/></linearGradient>
<radialGradient id="caseg" cx="0.45" cy="0.4" r="0.6">
<stop offset="0" stop-color="#f6f6f6"/><stop offset="0.75" stop-color="#e4e4e4"/><stop offset="0.9" stop-color="#d0d0d0"/><stop offset="1" stop-color="#b8b8b8"/></radialGradient>
<radialGradient id="dialg" cx="0.5" cy="0.42" r="0.55">
<stop offset="0" stop-color="#3c3c3c"/><stop offset="0.55" stop-color="#1c1c1c"/><stop offset="1" stop-color="#060606"/></radialGradient>
<linearGradient id="mk" x1="0" x2="1" y1="0" y2="0">
<stop offset="0" stop-color="#9a9a9a"/><stop offset="0.5" stop-color="#f4f4f4"/><stop offset="1" stop-color="#a8a8a8"/></linearGradient>
<linearGradient id="crg" x1="0" x2="0" y1="0" y2="1">
<stop offset="0" stop-color="#bdbdbd"/><stop offset="0.3" stop-color="#f0f0f0"/><stop offset="0.7" stop-color="#d8d8d8"/><stop offset="1" stop-color="#9a9a9a"/></linearGradient>
</defs>
<path d="M 655.5 224.8 L 655.5 262 L 622 285 Q 630 250 640.3 229 Q 646 225.8 655.5 224.8 Z" fill="url(#lugL)" stroke="#444" stroke-width="0.7"/>
<path d="M 751 224 Q 759 224.8 765 229 Q 775 252 784 285 L 751 262 Z" fill="url(#lugR)" stroke="#444" stroke-width="0.7"/>
<path d="M 655.3 405 L 655.3 446.6 L 639.4 443 Q 630 420 622 385 Z" fill="url(#lugLb)" stroke="#444" stroke-width="0.7"/>
<path d="M 750 405 L 750 446.6 L 765 443 Q 774 422 784 385 Z" fill="url(#lugRb)" stroke="#444" stroke-width="0.7"/>
<path d="M 655.5 224.8 L 655.5 262 L 622 285 Q 630 250 640.3 229 Q 646 225.8 655.5 224.8 Z" fill="url(#lugtop)"/>
<path d="M 751 224 Q 759 224.8 765 229 Q 775 252 784 285 L 751 262 Z" fill="url(#lugtop)"/>
<rect x="797" y="323" width="6" height="23" fill="url(#crg)" stroke="#666" stroke-width="0.6"/>
<rect x="802.5" y="318.2" width="8.9" height="32.8" fill="url(#crg)" rx="2" stroke="#555" stroke-width="0.7"/>
<line x1="803" y1="321" x2="811" y2="321" stroke="#888" stroke-width="0.6" />
<line x1="803" y1="324" x2="811" y2="324" stroke="#888" stroke-width="0.6" />
<line x1="803" y1="327" x2="811" y2="327" stroke="#888" stroke-width="0.6" />
<line x1="803" y1="330" x2="811" y2="330" stroke="#888" stroke-width="0.6" />
<line x1="803" y1="333" x2="811" y2="333" stroke="#888" stroke-width="0.6" />
<line x1="803" y1="336" x2="811" y2="336" stroke="#888" stroke-width="0.6" />
<line x1="803" y1="339" x2="811" y2="339" stroke="#888" stroke-width="0.6" />
<line x1="803" y1="342" x2="811" y2="342" stroke="#888" stroke-width="0.6" />
<line x1="803" y1="345" x2="811" y2="345" stroke="#888" stroke-width="0.6" />
<line x1="803" y1="348" x2="811" y2="348" stroke="#888" stroke-width="0.6" />
<circle cx="703" cy="334.9" r="94.6" fill="url(#caseg)" stroke="#1a1a1a" stroke-width="1.5"/>
<path d="M 608 334.9 A 95 95 0 0 0 703 429.9" stroke="#555" stroke-width="1.2" fill="none" opacity="0.6"/>
<circle cx="703.2" cy="335" r="77" fill="#161616"/>
<circle cx="703.2" cy="335" r="75.6" fill="none" stroke="#5a5a5a" stroke-width="0.8"/>
<circle cx="703.2" cy="335" r="66.5" fill="url(#dialg)"/>
<line x1="703.2" y1="266.7" x2="703.2" y2="262.2" stroke="#e4e4e4" stroke-width="1.8" />
<line x1="710.34" y1="267.07" x2="710.81" y2="262.6" stroke="#e4e4e4" stroke-width="2.0" />
<line x1="717.4" y1="268.19" x2="718.34" y2="263.79" stroke="#e4e4e4" stroke-width="2.0" />
<line x1="724.31" y1="270.04" x2="725.7" y2="265.76" stroke="#e4e4e4" stroke-width="2.0" />
<line x1="730.98" y1="272.6" x2="732.81" y2="268.49" stroke="#e4e4e4" stroke-width="2.0" />
<line x1="737.35" y1="275.85" x2="739.6" y2="271.95" stroke="#e4e4e4" stroke-width="1.8" />
<line x1="743.35" y1="279.74" x2="745.99" y2="276.1" stroke="#e4e4e4" stroke-width="2.0" />
<line x1="748.9" y1="284.24" x2="751.91" y2="280.9" stroke="#e4e4e4" stroke-width="2.0" />
<line x1="753.96" y1="289.3" x2="757.3" y2="286.29" stroke="#e4e4e4" stroke-width="2.0" />
<line x1="758.46" y1="294.85" x2="762.1" y2="292.21" stroke="#e4e4e4" stroke-width="2.0" />
<line x1="762.35" y1="300.85" x2="766.25" y2="298.6" stroke="#e4e4e4" stroke-width="1.8" />
<line x1="765.6" y1="307.22" x2="769.71" y2="305.39" stroke="#e4e4e4" stroke-width="2.0" />
<line x1="768.16" y1="313.89" x2="772.44" y2="312.5" stroke="#e4e4e4" stroke-width="2.0" />
<line x1="770.01" y1="320.8" x2="774.41" y2="319.86" stroke="#e4e4e4" stroke-width="2.0" />
<line x1="771.13" y1="327.86" x2="775.6" y2="327.39" stroke="#e4e4e4" stroke-width="2.0" />
<line x1="771.5" y1="335" x2="776" y2="335" stroke="#e4e4e4" stroke-width="1.8" />
<line x1="771.13" y1="342.14" x2="775.6" y2="342.61" stroke="#e4e4e4" stroke-width="2.0" />
<line x1="770.01" y1="349.2" x2="774.41" y2="350.14" stroke="#e4e4e4" stroke-width="2.0" />
<line x1="768.16" y1="356.11" x2="772.44" y2="357.5" stroke="#e4e4e4" stroke-width="2.0" />
<line x1="765.6" y1="362.78" x2="769.71" y2="364.61" stroke="#e4e4e4" stroke-width="2.0" />
<line x1="762.35" y1="369.15" x2="766.25" y2="371.4" stroke="#e4e4e4" stroke-width="1.8" />
<line x1="758.46" y1="375.15" x2="762.1" y2="377.79" stroke="#e4e4e4" stroke-width="2.0" />
<line x1="753.96" y1="380.7" x2="757.3" y2="383.71" stroke="#e4e4e4" stroke-width="2.0" />
<line x1="748.9" y1="385.76" x2="751.91" y2="389.1" stroke="#e4e4e4" stroke-width="2.0" />
<line x1="743.35" y1="390.26" x2="745.99" y2="393.9" stroke="#e4e4e4" stroke-width="2.0" />
<line x1="737.35" y1="394.15" x2="739.6" y2="398.05" stroke="#e4e4e4" stroke-width="1.8" />
<line x1="730.98" y1="397.4" x2="732.81" y2="401.51" stroke="#e4e4e4" stroke-width="2.0" />
<line x1="724.31" y1="399.96" x2="725.7" y2="404.24" stroke="#e4e4e4" stroke-width="2.0" />
<line x1="717.4" y1="401.81" x2="718.34" y2="406.21" stroke="#e4e4e4" stroke-width="2.0" />
<line x1="710.34" y1="402.93" x2="710.81" y2="407.4" stroke="#e4e4e4" stroke-width="2.0" />
<line x1="703.2" y1="403.3" x2="703.2" y2="407.8" stroke="#e4e4e4" stroke-width="1.8" />
<line x1="696.06" y1="402.93" x2="695.59" y2="407.4" stroke="#e4e4e4" stroke-width="2.0" />
<line x1="689" y1="401.81" x2="688.06" y2="406.21" stroke="#e4e4e4" stroke-width="2.0" />
<line x1="682.09" y1="399.96" x2="680.7" y2="404.24" stroke="#e4e4e4" stroke-width="2.0" />
<line x1="675.42" y1="397.4" x2="673.59" y2="401.51" stroke="#e4e4e4" stroke-width="2.0" />
<line x1="669.05" y1="394.15" x2="666.8" y2="398.05" stroke="#e4e4e4" stroke-width="1.8" />
<line x1="663.05" y1="390.26" x2="660.41" y2="393.9" stroke="#e4e4e4" stroke-width="2.0" />
<line x1="657.5" y1="385.76" x2="654.49" y2="389.1" stroke="#e4e4e4" stroke-width="2.0" />
<line x1="652.44" y1="380.7" x2="649.1" y2="383.71" stroke="#e4e4e4" stroke-width="2.0" />
<line x1="647.94" y1="375.15" x2="644.3" y2="377.79" stroke="#e4e4e4" stroke-width="2.0" />
<line x1="644.05" y1="369.15" x2="640.15" y2="371.4" stroke="#e4e4e4" stroke-width="1.8" />
<line x1="640.8" y1="362.78" x2="636.69" y2="364.61" stroke="#e4e4e4" stroke-width="2.0" />
<line x1="638.24" y1="356.11" x2="633.96" y2="357.5" stroke="#e4e4e4" stroke-width="2.0" />
<line x1="636.39" y1="349.2" x2="631.99" y2="350.14" stroke="#e4e4e4" stroke-width="2.0" />
<line x1="635.27" y1="342.14" x2="630.8" y2="342.61" stroke="#e4e4e4" stroke-width="2.0" />
<line x1="634.9" y1="335" x2="630.4" y2="335" stroke="#e4e4e4" stroke-width="1.8" />
<line x1="635.27" y1="327.86" x2="630.8" y2="327.39" stroke="#e4e4e4" stroke-width="2.0" />
<line x1="636.39" y1="320.8" x2="631.99" y2="319.86" stroke="#e4e4e4" stroke-width="2.0" />
<line x1="638.24" y1="313.89" x2="633.96" y2="312.5" stroke="#e4e4e4" stroke-width="2.0" />
<line x1="640.8" y1="307.22" x2="636.69" y2="305.39" stroke="#e4e4e4" stroke-width="2.0" />
<line x1="644.05" y1="300.85" x2="640.15" y2="298.6" stroke="#e4e4e4" stroke-width="1.8" />
<line x1="647.94" y1="294.85" x2="644.3" y2="292.21" stroke="#e4e4e4" stroke-width="2.0" />
<line x1="652.44" y1="289.3" x2="649.1" y2="286.29" stroke="#e4e4e4" stroke-width="2.0" />
<line x1="657.5" y1="284.24" x2="654.49" y2="280.9" stroke="#e4e4e4" stroke-width="2.0" />
<line x1="663.05" y1="279.74" x2="660.41" y2="276.1" stroke="#e4e4e4" stroke-width="2.0" />
<line x1="669.05" y1="275.85" x2="666.8" y2="271.95" stroke="#e4e4e4" stroke-width="1.8" />
<line x1="675.42" y1="272.6" x2="673.59" y2="268.49" stroke="#e4e4e4" stroke-width="2.0" />
<line x1="682.09" y1="270.04" x2="680.7" y2="265.76" stroke="#e4e4e4" stroke-width="2.0" />
<line x1="689" y1="268.19" x2="688.06" y2="263.79" stroke="#e4e4e4" stroke-width="2.0" />
<line x1="696.06" y1="267.07" x2="695.59" y2="262.6" stroke="#e4e4e4" stroke-width="2.0" />
<rect x="700.6" y="270" width="5.2" height="17.3" fill="url(#mk)" stroke="#555" stroke-width="0.5" transform="rotate(30 703.2 335)"/>
<rect x="700.6" y="270" width="5.2" height="17.3" fill="url(#mk)" stroke="#555" stroke-width="0.5" transform="rotate(60 703.2 335)"/>
<rect x="700.6" y="270" width="5.2" height="17.3" fill="url(#mk)" stroke="#555" stroke-width="0.5" transform="rotate(90 703.2 335)"/>
<rect x="700.6" y="270" width="5.2" height="17.3" fill="url(#mk)" stroke="#555" stroke-width="0.5" transform="rotate(120 703.2 335)"/>
<rect x="700.6" y="270" width="5.2" height="17.3" fill="url(#mk)" stroke="#555" stroke-width="0.5" transform="rotate(150 703.2 335)"/>
<rect x="700.6" y="270" width="5.2" height="17.3" fill="url(#mk)" stroke="#555" stroke-width="0.5" transform="rotate(180 703.2 335)"/>
<rect x="700.6" y="270" width="5.2" height="17.3" fill="url(#mk)" stroke="#555" stroke-width="0.5" transform="rotate(210 703.2 335)"/>
<rect x="700.6" y="270" width="5.2" height="17.3" fill="url(#mk)" stroke="#555" stroke-width="0.5" transform="rotate(240 703.2 335)"/>
<rect x="700.6" y="270" width="5.2" height="17.3" fill="url(#mk)" stroke="#555" stroke-width="0.5" transform="rotate(270 703.2 335)"/>
<rect x="700.6" y="270" width="5.2" height="17.3" fill="url(#mk)" stroke="#555" stroke-width="0.5" transform="rotate(300 703.2 335)"/>
<rect x="700.6" y="270" width="5.2" height="17.3" fill="url(#mk)" stroke="#555" stroke-width="0.5" transform="rotate(330 703.2 335)"/>
<rect x="687.3" y="272.1" width="6.2" height="20.6" fill="#d6d6d6" stroke="#777" stroke-width="0.6"/>
<path d="M 699.5 274.7 L 714.5 274.7 Q 717 274.7 717 277.5 L 717 279.8 Q 717 282.6 714 282.6 L 702.5 282.6 Q 699.8 282.6 699.8 285.4 L 699.8 290.2 L 719.5 290.2" stroke="#777" stroke-width="6.2" fill="none"/>
<path d="M 699.5 274.7 L 714.5 274.7 Q 717 274.7 717 277.5 L 717 279.8 Q 717 282.6 714 282.6 L 702.5 282.6 Q 699.8 282.6 699.8 285.4 L 699.8 290.2 L 719.5 290.2" stroke="#dadada" stroke-width="5" fill="none"/>
<polygon points="711.4,339.4 705.38,331.33 682.07,313.09 672.7,310.6 677.77,318.86 701.94,335.95" fill="#bdbdbd" stroke="#555" stroke-width="0.7"/><polygon points="711.4,339.4 705.38,331.33 682.07,313.09 672.7,310.6" fill="#f2f2f2" />
<polygon points="691.7,340.8 706.4,335.35 752.46,309.46 758.6,302.1 749.16,303.75 703.76,330.77" fill="#bdbdbd" stroke="#555" stroke-width="0.7"/><polygon points="691.7,340.8 706.4,335.35 752.46,309.46 758.6,302.1" fill="#f2f2f2" />
<line x1="708.2" y1="318.3" x2="681.9" y2="406.9" stroke="#cc1820" stroke-width="2.4" />
<circle cx="703.2" cy="335.5" r="3.2" fill="#d8d8d8" stroke="#666" stroke-width="0.6"/>
<circle cx="703.2" cy="335.5" r="1.5" fill="#c81818"/>
<line x1="606.9" y1="168" x2="798.6" y2="168" stroke="#1e1e1e" stroke-width="1.8" stroke-dasharray="4.6 2.8"/>
<line x1="606.9" y1="168" x2="606.9" y2="322" stroke="#1e1e1e" stroke-width="1.8" stroke-dasharray="4.6 2.8"/>
<line x1="798.6" y1="168" x2="798.6" y2="318" stroke="#1e1e1e" stroke-width="1.8" stroke-dasharray="4.6 2.8"/>
<line x1="617.5" y1="178.9" x2="788" y2="178.9" stroke="#161616" stroke-width="1.6" />
<polygon points="607.5,178.9 619.5,174.9 618.7,178.9 619.5,182.9" fill="#161616"/>
<polygon points="798,178.9 786,182.9 786.8,178.9 786,174.9" fill="#161616"/>
<line x1="731" y1="243" x2="731" y2="203.1" stroke="#161616" stroke-width="1.6" />
<line x1="730.2" y1="203.1" x2="751.4" y2="203.1" stroke="#161616" stroke-width="1.6" />
<polygon points="761.4,203.1 749.4,207.1 750.2,203.1 749.4,199.1" fill="#161616"/>
<line x1="666.5" y1="235" x2="738.6" y2="235" stroke="#161616" stroke-width="1.6" />
<polygon points="656.5,235 668.5,231 667.7,235 668.5,239" fill="#161616"/>
<polygon points="748.6,235 736.6,239 737.4,235 736.6,231" fill="#161616"/>
<line x1="568.6" y1="261.5" x2="680" y2="261.5" stroke="#1e1e1e" stroke-width="1.8" stroke-dasharray="4.6 2.8"/>
<line x1="568.6" y1="261.5" x2="568.6" y2="408.8" stroke="#1e1e1e" stroke-width="1.8" stroke-dasharray="4.6 2.8"/>
<line x1="568.6" y1="408.8" x2="680" y2="408.8" stroke="#1e1e1e" stroke-width="1.8" stroke-dasharray="4.6 2.8"/>
<line x1="582.8" y1="272.5" x2="582.8" y2="325" stroke="#161616" stroke-width="1.6" />
<polygon points="582.8,262.5 586.8,274.5 582.8,273.7 578.8,274.5" fill="#161616"/>
<line x1="582.8" y1="347" x2="582.8" y2="398" stroke="#161616" stroke-width="1.6" />
<polygon points="582.8,408 578.8,396 582.8,396.8 586.8,396" fill="#161616"/>
<line x1="751" y1="224.4" x2="846" y2="224.4" stroke="#1e1e1e" stroke-width="1.8" stroke-dasharray="4.6 2.8"/>
<line x1="846" y1="224.4" x2="846" y2="446.4" stroke="#1e1e1e" stroke-width="1.8" stroke-dasharray="4.6 2.8"/>
<line x1="751" y1="446.4" x2="846" y2="446.4" stroke="#1e1e1e" stroke-width="1.8" stroke-dasharray="4.6 2.8"/>
<line x1="829.7" y1="235" x2="829.7" y2="325" stroke="#161616" stroke-width="1.6" />
<polygon points="829.7,225 833.7,237 829.7,236.2 825.7,237" fill="#161616"/>
<line x1="829.7" y1="347" x2="829.7" y2="436" stroke="#161616" stroke-width="1.6" />
<polygon points="829.7,446 825.7,434 829.7,434.8 833.7,434" fill="#161616"/>
<line x1="703.7" y1="431.5" x2="703.7" y2="457" stroke="#161616" stroke-width="1.6" />
<polygon points="703.7,467 699.7,455 703.7,455.8 707.7,455" fill="#161616"/>
<line x1="620.5" y1="472.3" x2="634.98" y2="450.07" stroke="#161616" stroke-width="1.6" />
<polygon points="638.8,444.2 636.65,453.54 634.33,451.07 631.12,449.94" fill="#161616"/>
<defs>
<linearGradient id="rimg" x1="0" x2="1" y1="0" y2="1">
<stop offset="0" stop-color="#e8e8e8"/><stop offset="0.5" stop-color="#c4c4c4"/><stop offset="1" stop-color="#d6d6d6"/></linearGradient>
</defs>
<ellipse cx="1020" cy="291" rx="120" ry="118" fill="#151515"/>
<ellipse cx="1019.5" cy="289.5" rx="103.2" ry="101.5" fill="url(#rimg)" stroke="#8a8a8a" stroke-width="0.6"/>
<ellipse cx="1019.3" cy="288.6" rx="100.5" ry="96.3" fill="#fcfcfc" stroke="#b0b0b0" stroke-width="0.6"/>
<polygon points="1006.5,172.5 1036.4,172.5 1022,194" fill="#d8d8d8" stroke="#999" stroke-width="0.6"/>
<circle cx="1021.6" cy="179.5" r="5.2" fill="#ecebdc" stroke="#aaa" stroke-width="0.5"/>
<line x1="1031.03" y1="187.83" x2="1032.02" y2="178.54" stroke="#eeeeee" stroke-width="1.7" />
<line x1="1041.93" y1="189.53" x2="1043.91" y2="180.39" stroke="#eeeeee" stroke-width="1.7" />
<line x1="1052.6" y1="192.34" x2="1055.54" y2="183.45" stroke="#eeeeee" stroke-width="1.7" />
<line x1="1062.91" y1="196.23" x2="1066.77" y2="187.69" stroke="#eeeeee" stroke-width="1.7" />
<line x1="1072.25" y1="202.01" x2="1079.75" y2="189.23" stroke="#f2f2f2" stroke-width="2.0" />
<line x1="1082.01" y1="207.07" x2="1087.6" y2="199.51" stroke="#eeeeee" stroke-width="1.7" />
<line x1="1090.59" y1="213.9" x2="1096.95" y2="206.96" stroke="#eeeeee" stroke-width="1.7" />
<line x1="1098.4" y1="221.58" x2="1105.46" y2="215.33" stroke="#eeeeee" stroke-width="1.7" />
<line x1="1105.35" y1="230.02" x2="1113.04" y2="224.53" stroke="#eeeeee" stroke-width="1.7" />
<line x1="1110.5" y1="239.62" x2="1123.49" y2="232.25" stroke="#f2f2f2" stroke-width="2.0" />
<line x1="1116.38" y1="248.8" x2="1125.06" y2="245" stroke="#eeeeee" stroke-width="1.7" />
<line x1="1120.34" y1="258.94" x2="1129.37" y2="256.06" stroke="#eeeeee" stroke-width="1.7" />
<line x1="1123.19" y1="269.43" x2="1132.49" y2="267.49" stroke="#eeeeee" stroke-width="1.7" />
<line x1="1124.92" y1="280.16" x2="1134.37" y2="279.18" stroke="#eeeeee" stroke-width="1.7" />
<line x1="1124.5" y1="291" x2="1139.5" y2="291" stroke="#f2f2f2" stroke-width="2.0" />
<line x1="1072.25" y1="379.99" x2="1079.75" y2="392.77" stroke="#f2f2f2" stroke-width="2.0" />
<line x1="967.75" y1="379.99" x2="960.25" y2="392.77" stroke="#f2f2f2" stroke-width="2.0" />
<line x1="915.5" y1="291" x2="900.5" y2="291" stroke="#f2f2f2" stroke-width="2.0" />
<line x1="967.75" y1="202.01" x2="960.25" y2="189.23" stroke="#f2f2f2" stroke-width="2.0" />
<g transform="translate(1116.56 345.82) rotate(120) translate(-18 -5)"><path d="M 1 0.8 L 12 0.8 Q 15.2 0.8 15.2 2.9 Q 15.2 5 12 5 L 4 5 Q 0.8 5 0.8 7.1 L 0.8 9.2 L 15.2 9.2" transform="translate(0 0)" stroke="#f4f4f4" stroke-width="1.7" fill="none" stroke-linejoin="round"/><path d="M 4.8 0.8 L 11.2 0.8 Q 15.2 0.8 15.2 4.8 L 15.2 5.2 Q 15.2 9.2 11.2 9.2 L 4.8 9.2 Q 0.8 9.2 0.8 5.2 L 0.8 4.8 Q 0.8 0.8 4.8 0.8 Z" transform="translate(20 0)" stroke="#f4f4f4" stroke-width="1.7" fill="none" stroke-linejoin="round"/></g>
<g transform="translate(1020 400.64) rotate(180) translate(-18 -5)"><path d="M 1 0.8 L 12 0.8 Q 15.2 0.8 15.2 2.9 Q 15.2 5 12 5 L 5 5 M 12 5 Q 15.2 5 15.2 7.1 Q 15.2 9.2 12 9.2 L 1 9.2" transform="translate(0 0)" stroke="#f4f4f4" stroke-width="1.7" fill="none" stroke-linejoin="round"/><path d="M 4.8 0.8 L 11.2 0.8 Q 15.2 0.8 15.2 4.8 L 15.2 5.2 Q 15.2 9.2 11.2 9.2 L 4.8 9.2 Q 0.8 9.2 0.8 5.2 L 0.8 4.8 Q 0.8 0.8 4.8 0.8 Z" transform="translate(20 0)" stroke="#f4f4f4" stroke-width="1.7" fill="none" stroke-linejoin="round"/></g>
<g transform="translate(923.44 345.82) rotate(240) translate(-18 -5)"><path d="M 11 9.2 L 11 0.8 L 0.8 6.6 L 15.2 6.6" transform="translate(0 0)" stroke="#f4f4f4" stroke-width="1.7" fill="none" stroke-linejoin="round"/><path d="M 4.8 0.8 L 11.2 0.8 Q 15.2 0.8 15.2 4.8 L 15.2 5.2 Q 15.2 9.2 11.2 9.2 L 4.8 9.2 Q 0.8 9.2 0.8 5.2 L 0.8 4.8 Q 0.8 0.8 4.8 0.8 Z" transform="translate(20 0)" stroke="#f4f4f4" stroke-width="1.7" fill="none" stroke-linejoin="round"/></g>
<g transform="translate(923.44 236.18) rotate(300) translate(-18 -5)"><path d="M 15 0.8 L 0.8 0.8 L 0.8 5 L 12 5 Q 15.2 5 15.2 7.1 Q 15.2 9.2 12 9.2 L 1 9.2" transform="translate(0 0)" stroke="#f4f4f4" stroke-width="1.7" fill="none" stroke-linejoin="round"/><path d="M 4.8 0.8 L 11.2 0.8 Q 15.2 0.8 15.2 4.8 L 15.2 5.2 Q 15.2 9.2 11.2 9.2 L 4.8 9.2 Q 0.8 9.2 0.8 5.2 L 0.8 4.8 Q 0.8 0.8 4.8 0.8 Z" transform="translate(20 0)" stroke="#f4f4f4" stroke-width="1.7" fill="none" stroke-linejoin="round"/></g>
<line x1="931.8" y1="289.5" x2="1108.7" y2="289.5" stroke="#161616" stroke-width="1.6" />
<polygon points="921.8,289.5 933.8,285.5 933,289.5 933.8,293.5" fill="#161616"/>
<polygon points="1118.7,289.5 1106.7,293.5 1107.5,289.5 1106.7,285.5" fill="#161616"/>
<line x1="899.8" y1="296" x2="899.8" y2="448.3" stroke="#1e1e1e" stroke-width="1.8" stroke-dasharray="4.6 2.8"/>
<line x1="1139.7" y1="296" x2="1139.7" y2="448.3" stroke="#1e1e1e" stroke-width="1.8" stroke-dasharray="4.6 2.8"/>
<line x1="899.8" y1="448.3" x2="1139.7" y2="448.3" stroke="#1e1e1e" stroke-width="1.8" stroke-dasharray="4.6 2.8"/>
<line x1="910.5" y1="438" x2="1129" y2="438" stroke="#161616" stroke-width="1.6" />
<polygon points="900.5,438 912.5,434 911.7,438 912.5,442" fill="#161616"/>
<polygon points="1139,438 1127,442 1127.8,438 1127,434" fill="#161616"/>
<defs>
<linearGradient id="scg" x1="0" x2="0" y1="0" y2="1">
<stop offset="0" stop-color="#a8a8a8"/><stop offset="0.12" stop-color="#dedede"/><stop offset="0.3" stop-color="#cfcfcf"/>
<stop offset="0.45" stop-color="#6a6a6a"/><stop offset="0.6" stop-color="#5a5a5a"/><stop offset="0.75" stop-color="#9c9c9c"/>
<stop offset="0.88" stop-color="#d6d6d6"/><stop offset="1" stop-color="#a0a0a0"/></linearGradient>
</defs>
<line x1="700" y1="531" x2="700" y2="557" stroke="#4a4a4a" stroke-width="1.0" />
<line x1="968.8" y1="531" x2="968.8" y2="562" stroke="#4a4a4a" stroke-width="1.0" />
<line x1="704.5" y1="536.7" x2="964.3" y2="536.7" stroke="#4a4a4a" stroke-width="1.0" />
<polygon points="700.5,536.7 706.5,534.3 705.7,536.7 706.5,539.1" fill="#4a4a4a"/>
<polygon points="968.3,536.7 962.3,539.1 963.1,536.7 962.3,534.3" fill="#4a4a4a"/>
<rect x="700" y="557.7" width="244" height="19.5" fill="url(#scg)" rx="3"/>
<rect x="943" y="561" width="25" height="14.6" fill="url(#scg)" />
<line x1="945" y1="561" x2="946.5" y2="575.6" stroke="#777" stroke-width="0.9" />
<line x1="948" y1="561" x2="949.5" y2="575.6" stroke="#777" stroke-width="0.9" />
<line x1="951" y1="561" x2="952.5" y2="575.6" stroke="#777" stroke-width="0.9" />
<line x1="954" y1="561" x2="955.5" y2="575.6" stroke="#777" stroke-width="0.9" />
<line x1="957" y1="561" x2="958.5" y2="575.6" stroke="#777" stroke-width="0.9" />
<line x1="960" y1="561" x2="961.5" y2="575.6" stroke="#777" stroke-width="0.9" />
<line x1="963" y1="561" x2="964.5" y2="575.6" stroke="#777" stroke-width="0.9" />
<line x1="966" y1="561" x2="967.5" y2="575.6" stroke="#777" stroke-width="0.9" />
<rect x="701.5" y="568" width="8" height="6" fill="#666" />
<line x1="677" y1="557.7" x2="700" y2="557.7" stroke="#4a4a4a" stroke-width="1.0" />
<line x1="677" y1="577.2" x2="700" y2="577.2" stroke="#4a4a4a" stroke-width="1.0" />
<line x1="677.3" y1="560.2" x2="677.3" y2="574.7" stroke="#4a4a4a" stroke-width="1.0" />
<polygon points="677.3,558.2 679.3,562.2 677.3,561.4 675.3,562.2" fill="#4a4a4a"/>
<polygon points="677.3,576.7 675.3,572.7 677.3,573.5 679.3,572.7" fill="#4a4a4a"/>
<line x1="968" y1="559.4" x2="991" y2="559.4" stroke="#4a4a4a" stroke-width="1.0" />
<line x1="968" y1="577.2" x2="991" y2="577.2" stroke="#4a4a4a" stroke-width="1.0" />
<line x1="990.5" y1="561.9" x2="990.5" y2="574.7" stroke="#4a4a4a" stroke-width="1.0" />
<polygon points="990.5,559.9 992.5,563.9 990.5,563.1 988.5,563.9" fill="#4a4a4a"/>
<polygon points="990.5,576.7 988.5,572.7 990.5,573.5 992.5,572.7" fill="#4a4a4a"/>
<defs>
<linearGradient id="bkh" x1="0" x2="1" y1="0" y2="0">
<stop offset="0" stop-color="#b8b8b8"/><stop offset="0.5" stop-color="#d8d8d8"/><stop offset="1" stop-color="#b0b0b0"/></linearGradient>
<linearGradient id="bkv" x1="0" x2="0" y1="0" y2="1">
<stop offset="0" stop-color="#c8c8c8"/><stop offset="0.5" stop-color="#dadada"/><stop offset="1" stop-color="#b8b8b8"/></linearGradient>
<linearGradient id="sbt" x1="0" x2="0.3" y1="0" y2="1">
<stop offset="0" stop-color="#d4d4d4"/><stop offset="0.4" stop-color="#eeeeee"/><stop offset="0.7" stop-color="#d8d8d8"/><stop offset="1" stop-color="#b4b4b4"/></linearGradient>
<linearGradient id="sbd" x1="0" x2="1" y1="0" y2="0">
<stop offset="0" stop-color="#3a3a3a"/><stop offset="0.6" stop-color="#262626"/><stop offset="1" stop-color="#4a4a4a"/></linearGradient>
<linearGradient id="sbf" x1="0" x2="1" y1="0" y2="0">
<stop offset="0" stop-color="#b0b0b0"/><stop offset="0.5" stop-color="#dcdcdc"/><stop offset="1" stop-color="#bcbcbc"/></linearGradient>
</defs>
<rect x="655.7" y="756.9" width="30.6" height="101.9" fill="url(#bkh)" rx="5" stroke="#9a9a9a" stroke-width="0.8"/>
<rect x="686" y="797.3" width="66" height="22.3" fill="url(#bkv)" stroke="#9a9a9a" stroke-width="0.8"/>
<rect x="687" y="800" width="4" height="4" fill="#555" />
<rect x="687" y="811" width="4" height="4" fill="#555" />
<rect x="903" y="797.3" width="70" height="22.3" fill="url(#bkv)" stroke="#9a9a9a" stroke-width="0.8"/>
<rect x="966" y="800" width="4" height="4" fill="#555" />
<rect x="966" y="811" width="4" height="4" fill="#555" />
<rect x="818.4" y="753" width="17.6" height="111.7" fill="url(#bkh)" stroke="#9a9a9a" stroke-width="0.8"/>
<rect x="749.8" y="787" width="153.7" height="44.4" fill="url(#bkv)" rx="2" stroke="#9a9a9a" stroke-width="0.8"/>
<rect x="757" y="795" width="139" height="28" fill="#dadada" stroke="#a0a0a0" stroke-width="0.8"/>
<rect x="759" y="797" width="10" height="24" fill="#fbfbfb" />
<rect x="884" y="797" width="10" height="24" fill="#fbfbfb" />
<rect x="770" y="799" width="112" height="20" fill="#cfcfcf" />
<circle cx="763" cy="809" r="2.6" fill="#c8c8c8" stroke="#888" stroke-width="0.6"/>
<circle cx="890.5" cy="809" r="2.6" fill="#c8c8c8" stroke="#888" stroke-width="0.6"/>
<rect x="818.4" y="787" width="17.6" height="44.4" fill="#d2d2d2" />
<rect x="818.4" y="785" width="17.6" height="2.5" fill="#444" />
<rect x="818.4" y="830" width="17.6" height="2.5" fill="#444" />
<rect x="822" y="799" width="3.5" height="7" fill="#555" />
<rect x="830" y="799" width="3.5" height="7" fill="#555" />
<rect x="822" y="813" width="3.5" height="7" fill="#555" />
<rect x="830" y="813" width="3.5" height="7" fill="#555" />
<rect x="968.6" y="756.9" width="26.3" height="103.1" fill="url(#bkh)" rx="2" stroke="#9a9a9a" stroke-width="0.8"/>
<rect x="977" y="762" width="10" height="93" fill="#f6f6f6" stroke="#aaa" stroke-width="0.6"/>
<rect x="980.5" y="764" width="3" height="89" fill="#b8b8b8" />
<line x1="996" y1="757.4" x2="1007" y2="757.4" stroke="#161616" stroke-width="1.5" />
<line x1="996" y1="859.6" x2="1007" y2="859.6" stroke="#161616" stroke-width="1.5" />
<line x1="1001.6" y1="765" x2="1001.6" y2="852" stroke="#161616" stroke-width="1.6" />
<polygon points="1001.6,758 1005,767 1001.6,766.2 998.2,767" fill="#161616"/>
<polygon points="1001.6,859 998.2,850 1001.6,850.8 1005,850" fill="#161616"/>
<line x1="1001.6" y1="808.6" x2="1022.4" y2="808.6" stroke="#161616" stroke-width="1.5" />
<polygon points="674,884 700,871.5 716,872 694,885 680,892" fill="#d8d8d8" stroke="#aaa" stroke-width="0.6"/>
<polygon points="668.4,898.5 680.6,882 708.7,870 757.3,862.7 782.9,867.8 786,875.5 786,893 766,905 700,928 697,930.4 672,925" fill="url(#sbt)" stroke="#9a9a9a" stroke-width="0.7"/>
<polygon points="698.5,912.5 785.4,876.7 785.4,892 766.3,904.9 699.8,926.6" fill="url(#sbd)" />
<line x1="683" y1="899" x2="785" y2="874.5" stroke="#f4f4f4" stroke-width="1.2" />
<polygon points="729.2,924 767.5,910 792.5,943.2 753.5,963.7" fill="url(#sbf)" stroke="#8a8a8a" stroke-width="0.7"/>
<polygon points="729.2,924 767.5,910 770,915 731.5,929" fill="#3a3a3a" />
<line x1="736.8" y1="925" x2="761.1" y2="960" stroke="#333" stroke-width="1.5" />
<line x1="761.1" y1="915" x2="782.9" y2="947" stroke="#3a3a3a" stroke-width="1.4" />
<polygon points="666,903 676,899 692,928 682,933" fill="#cfcfcf" stroke="#999" stroke-width="0.6"/>
<polygon points="671,916 684,912 692,928 680,932" fill="#b8b8b8" />
<line x1="757" y1="888.5" x2="757" y2="906" stroke="#e03a3a" stroke-width="1.6" />
<line x1="753.5" y1="889" x2="760.5" y2="888" stroke="#e03a3a" stroke-width="1.5" />
<line x1="753.5" y1="906" x2="760.5" y2="905.5" stroke="#e03a3a" stroke-width="1.5" />
<line x1="778.3" y1="905.8" x2="810.9" y2="905.8" stroke="#161616" stroke-width="1.6" />
<polygon points="768.3,905.8 780.3,901.8 779.5,905.8 780.3,909.8" fill="#161616"/>
<defs>
<linearGradient id="bsg" gradientUnits="userSpaceOnUse" x1="563" x2="1136" y1="0" y2="0">
<stop offset="0" stop-color="#19233f"/><stop offset="0.3" stop-color="#1e2a4a"/><stop offset="0.5" stop-color="#283554"/>
<stop offset="0.7" stop-color="#323f5b"/><stop offset="1" stop-color="#3a4661"/></linearGradient>
<linearGradient id="bst" gradientUnits="userSpaceOnUse" x1="563" x2="1136" y1="0" y2="0">
<stop offset="0" stop-color="#172038"/><stop offset="0.4" stop-color="#1d2844"/><stop offset="1" stop-color="#2e3a55"/></linearGradient>
</defs>
<path d="M 563.7 1023 L 760 1029.2 L 870 1030.6 L 1120 1032.4 Q 1133 1032.6 1134.5 1038 L 1128.2 1079.7 Q 1126 1084.5 1120 1085 L 1040 1087.2 L 850 1087.3 L 760 1091 L 607 1095.7 L 571 1096 Z" fill="url(#bsg)"/>
<path d="M 563.7 1023 L 760 1029.2 L 870 1030.6 L 1120 1032.4 Q 1133 1032.6 1134.5 1038 L 1133 1046 L 1040 1046 L 870 1043.6 L 592 1038 Z" fill="url(#bst)"/>
<path d="M 565 1023.6 L 760 1029.8 L 1120 1033" stroke="#4a5670" stroke-width="1" fill="none" opacity="0.8"/>
<path d="M 563.7 1023 L 592 1038 L 598 1094 L 571 1096 Z" fill="#161d30" opacity="0.85"/>
<path d="M 575 1092 L 760 1088.5 L 1040 1084.8 L 1118 1083.5" stroke="#55627e" stroke-width="1.4" fill="none" opacity="0.7"/>
<path d="M 597 1040 Q 592 1066 599 1092" stroke="#46588a" stroke-width="1.6" fill="none" opacity="0.8"/>
<path d="M 681 1043 Q 676 1066 683 1090" stroke="#46588a" stroke-width="1.6" fill="none" opacity="0.8"/>
<path d="M 763 1044 Q 759 1066 764 1088" stroke="#46588a" stroke-width="1.6" fill="none" opacity="0.8"/>
<path d="M 845 1045 Q 842 1066 846 1087" stroke="#46588a" stroke-width="1.6" fill="none" opacity="0.8"/>
<path d="M 926 1046 Q 923 1066 927 1086" stroke="#46588a" stroke-width="1.6" fill="none" opacity="0.8"/>
<path d="M 1011 1046 Q 1008 1066 1012 1085" stroke="#46588a" stroke-width="1.6" fill="none" opacity="0.8"/>
<path d="M 1104 1047 Q 1101 1064 1104 1082" stroke="#46588a" stroke-width="1.6" fill="none" opacity="0.8"/>
<path d="M 600 1056 Q 640 1050 679 1053" stroke="#46588a" stroke-width="1.6" fill="none" opacity="0.8"/>
<path d="M 684 1057 Q 720 1052 761 1055" stroke="#46588a" stroke-width="1.6" fill="none" opacity="0.8"/>
<path d="M 766 1058 Q 800 1054 843 1056" stroke="#46588a" stroke-width="1.6" fill="none" opacity="0.8"/>
<path d="M 848 1058 Q 880 1055 924 1057" stroke="#46588a" stroke-width="1.6" fill="none" opacity="0.8"/>
<path d="M 929 1058 Q 970 1056 1009 1057" stroke="#46588a" stroke-width="1.6" fill="none" opacity="0.8"/>
<path d="M 1014 1058 Q 1060 1057 1102 1058" stroke="#46588a" stroke-width="1.6" fill="none" opacity="0.8"/>
<path d="M 600 1078 Q 640 1074 679 1076" stroke="#46588a" stroke-width="1.6" fill="none" opacity="0.8"/>
<path d="M 684 1079 Q 720 1075 761 1077" stroke="#46588a" stroke-width="1.6" fill="none" opacity="0.8"/>
<path d="M 592 1038 L 870 1043.6 L 1040 1046 L 1122 1046 Q 1125.8 1046 1125.5 1050 L 1120 1079 Q 1119 1082.5 1114 1082.5 L 1040 1082.5 L 755 1082" stroke="#0c1120" stroke-width="3.6" fill="none" opacity="0.5"/>
<path d="M 592 1038 L 870 1043.6 L 1040 1046 L 1122 1046 Q 1125.8 1046 1125.5 1050 L 1120 1079 Q 1119 1082.5 1114 1082.5 L 1040 1082.5 L 755 1082" stroke="#f0f2f6" stroke-width="2.1" fill="none" stroke-dasharray="7 3.2" stroke-linecap="round"/>
<circle cx="573.5" cy="1021.5" r="3" fill="#d0d0d0" stroke="#888" stroke-width="0.5"/>
<line x1="1073.8" y1="1032.5" x2="1073.8" y2="1041.5" stroke="#d83030" stroke-width="2.4" />
<line x1="1073.9" y1="998" x2="1073.9" y2="1022" stroke="#161616" stroke-width="1.6" />
<polygon points="1073.9,1032 1069.9,1020 1073.9,1020.8 1077.9,1020" fill="#161616"/>
<text x="31.00" y="29.2" font-size="37.8" font-weight="bold" fill="#0c0c0c" stroke="#0c0c0c" stroke-width="0.9" textLength="1102.00" lengthAdjust="spacingAndGlyphs" style="white-space:pre">How to Measure Your Watch Case and Watch Band Using a Ruler</text>
<text x="87.50" y="57" font-size="17.6" font-weight="normal" fill="#141414" stroke="#141414" stroke-width="0.35" textLength="1015.50" lengthAdjust="spacingAndGlyphs" style="white-space:pre">Copyright  © 2019, by Wholesaleoutlet990 &amp; Ewatchparts. All rights reserved. All text and graphics are protected by US and</text>
<text x="120.50" y="89" font-size="17.6" font-weight="normal" fill="#141414" stroke="#141414" stroke-width="0.35" textLength="950.51" lengthAdjust="spacingAndGlyphs" style="white-space:pre">International Copyright Laws, and may not be copied, reprinted, published, or otherwise distributed by any  means.</text>
<text x="67.50" y="1136" font-size="17.6" font-weight="normal" fill="#141414" stroke="#141414" stroke-width="0.35" textLength="1015.50" lengthAdjust="spacingAndGlyphs" style="white-space:pre">Copyright  © 2019, by Wholesaleoutlet990 &amp; Ewatchparts. All rights reserved. All text and graphics are protected by US and</text>
<text x="100.00" y="1167" font-size="17.6" font-weight="normal" fill="#141414" stroke="#141414" stroke-width="0.35" textLength="950.00" lengthAdjust="spacingAndGlyphs" style="white-space:pre">International Copyright Laws, and may not be copied, reprinted, published, or otherwise distributed by any  means.</text>
<text x="171.98" y="148" font-size="24.5" font-weight="bold" fill="#c8142a" textLength="124.03" lengthAdjust="spacingAndGlyphs" style="white-space:pre">Metal Band</text>
<text x="355.99" y="142" font-size="22.5" font-weight="bold" fill="#c8142a" textLength="154.23" lengthAdjust="spacingAndGlyphs" style="white-space:pre">Leather Straps</text>
<text x="643.19" y="142" font-size="23" font-weight="bold" fill="#c8142a" textLength="121.81" lengthAdjust="spacingAndGlyphs" style="white-space:pre">Watch Case</text>
<text x="957.86" y="158.2" font-size="22" font-weight="bold" fill="#c8142a" textLength="124.26" lengthAdjust="spacingAndGlyphs" style="white-space:pre">Bezel Insert</text>
<text x="719.19" y="512.4" font-size="23.5" font-weight="bold" fill="#c8142a" textLength="219.92" lengthAdjust="spacingAndGlyphs" style="white-space:pre">Screw Measurement</text>
<text x="719.18" y="736.1" font-size="22.8" font-weight="bold" fill="#c8142a" textLength="207.33" lengthAdjust="spacingAndGlyphs" style="white-space:pre">Deployment Buckle</text>
<text x="221.48" y="204.6" font-size="15.5" font-weight="bold" fill="#141414" textLength="27.04" lengthAdjust="spacingAndGlyphs" style="white-space:pre">Lug</text>
<text x="214.00" y="223.9" font-size="15.5" font-weight="bold" fill="#141414" textLength="40.93" lengthAdjust="spacingAndGlyphs" style="white-space:pre">Width</text>
<text x="313.39" y="240.5" font-size="15.5" font-weight="bold" fill="#141414" textLength="64.61" lengthAdjust="spacingAndGlyphs" style="white-space:pre">Endpiece</text>
<text x="301.00" y="448.4" font-size="15.5" font-weight="bold" fill="#141414" textLength="78.00" lengthAdjust="spacingAndGlyphs" style="white-space:pre">Removable</text>
<text x="324.89" y="468.9" font-size="15.5" font-weight="bold" fill="#141414" textLength="28.32" lengthAdjust="spacingAndGlyphs" style="white-space:pre">Link</text>
<text x="156.38" y="591.6" font-size="15" font-weight="bold" fill="#141414" textLength="29.64" lengthAdjust="spacingAndGlyphs" style="white-space:pre">Total</text>
<text x="149.00" y="610.2" font-size="15" font-weight="bold" fill="#141414" textLength="44.24" lengthAdjust="spacingAndGlyphs" style="white-space:pre">Length</text>
<text x="302.73" y="597.4" font-size="15.5" font-weight="bold" fill="#141414" textLength="47.11" lengthAdjust="spacingAndGlyphs" style="white-space:pre">Buckle</text>
<text x="306.00" y="617.9" font-size="15.5" font-weight="bold" fill="#141414" textLength="41.00" lengthAdjust="spacingAndGlyphs" style="white-space:pre">Width</text>
<text x="306.08" y="707.4" font-size="15.5" font-weight="bold" fill="#141414" textLength="28.35" lengthAdjust="spacingAndGlyphs" style="white-space:pre">Link</text>
<text x="301.00" y="728" font-size="15.5" font-weight="bold" fill="#141414" textLength="42.00" lengthAdjust="spacingAndGlyphs" style="white-space:pre">Width</text>
<text x="313.00" y="946.7" font-size="15.5" font-weight="bold" fill="#141414" textLength="47.24" lengthAdjust="spacingAndGlyphs" style="white-space:pre">Spring</text>
<text x="324.72" y="965.5" font-size="15.5" font-weight="bold" fill="#141414" textLength="23.28" lengthAdjust="spacingAndGlyphs" style="white-space:pre">Bar</text>
<text x="220.87" y="1018.7" font-size="15.5" font-weight="bold" fill="#141414" textLength="27.04" lengthAdjust="spacingAndGlyphs" style="white-space:pre">Lug</text>
<text x="214.00" y="1037.6" font-size="15.5" font-weight="bold" fill="#141414" textLength="40.84" lengthAdjust="spacingAndGlyphs" style="white-space:pre">Width</text>
<text x="408.87" y="166" font-size="15.5" font-weight="bold" fill="#141414" textLength="46.13" lengthAdjust="spacingAndGlyphs" style="white-space:pre">Buckle</text>
<text x="412.16" y="186.7" font-size="15.5" font-weight="bold" fill="#141414" textLength="40.35" lengthAdjust="spacingAndGlyphs" style="white-space:pre">Width</text>
<text x="491.00" y="370.4" font-size="15.5" font-weight="bold" fill="#141414" textLength="39.00" lengthAdjust="spacingAndGlyphs" style="white-space:pre">Men’s</text>
<text x="488.45" y="390.7" font-size="15.5" font-weight="bold" fill="#141414" textLength="44.80" lengthAdjust="spacingAndGlyphs" style="white-space:pre">90mm</text>
<text x="476.00" y="411.4" font-size="15.5" font-weight="bold" fill="#141414" textLength="68.41" lengthAdjust="spacingAndGlyphs" style="white-space:pre">3.6 inches</text>
<text x="419.48" y="600.3" font-size="15.5" font-weight="bold" fill="#141414" textLength="27.04" lengthAdjust="spacingAndGlyphs" style="white-space:pre">Lug</text>
<text x="412.17" y="620.7" font-size="15.5" font-weight="bold" fill="#141414" textLength="40.74" lengthAdjust="spacingAndGlyphs" style="white-space:pre">Width</text>
<text x="490.86" y="802" font-size="15.5" font-weight="bold" fill="#141414" textLength="39.14" lengthAdjust="spacingAndGlyphs" style="white-space:pre">Men’s</text>
<text x="483.98" y="823" font-size="15.5" font-weight="bold" fill="#141414" textLength="54.57" lengthAdjust="spacingAndGlyphs" style="white-space:pre">110mm</text>
<text x="477.18" y="843.6" font-size="15.5" font-weight="bold" fill="#141414" textLength="68.95" lengthAdjust="spacingAndGlyphs" style="white-space:pre">4.4 inches</text>
<text x="309.08" y="1005.6" font-size="15.5" font-weight="bold" fill="#141414" textLength="66.92" lengthAdjust="spacingAndGlyphs" style="white-space:pre">Thickness</text>
<text x="308.07" y="1026" font-size="15.5" font-weight="bold" fill="#141414" textLength="52.93" lengthAdjust="spacingAndGlyphs" style="white-space:pre">of strap</text>
<text x="309.08" y="1046" font-size="15.5" font-weight="bold" fill="#141414" textLength="68.92" lengthAdjust="spacingAndGlyphs" style="white-space:pre">for buckle</text>
<text x="600.49" y="162.2" font-size="13.6" font-weight="bold" fill="#141414" textLength="204.42" lengthAdjust="spacingAndGlyphs" style="white-space:pre">CASE WIDTH WITHOUT CROWN</text>
<text x="764.77" y="207.9" font-size="14.2" font-weight="bold" fill="#141414" textLength="111.05" lengthAdjust="spacingAndGlyphs" style="white-space:pre">MODEL NUMBER</text>
<text x="687.14" y="216.7" font-size="13.8" font-weight="bold" fill="#141414" textLength="27.78" lengthAdjust="spacingAndGlyphs" style="white-space:pre">LUG</text>
<text x="680.86" y="229.5" font-size="13.8" font-weight="bold" fill="#141414" textLength="43.67" lengthAdjust="spacingAndGlyphs" style="white-space:pre">WIDTH</text>
<text x="546.40" y="340" font-size="13.8" font-weight="bold" fill="#141414" textLength="56.23" lengthAdjust="spacingAndGlyphs" style="white-space:pre">CRYSTAL</text>
<text x="820.17" y="340" font-size="13.8" font-weight="bold" fill="#141414" textLength="53.37" lengthAdjust="spacingAndGlyphs" style="white-space:pre">LENGTH</text>
<text x="588.24" y="482.4" font-size="14.2" font-weight="bold" fill="#141414" textLength="26.42" lengthAdjust="spacingAndGlyphs" style="white-space:pre">LUG</text>
<text x="650.49" y="482.4" font-size="14.2" font-weight="bold" fill="#141414" textLength="106.21" lengthAdjust="spacingAndGlyphs" style="white-space:pre">SERIAL NUMBER</text>
<text x="962.18" y="285.6" font-size="13.8" font-weight="bold" fill="#141414" textLength="116.12" lengthAdjust="spacingAndGlyphs" style="white-space:pre">INSIDE DIAMETER</text>
<text x="954.49" y="466.2" font-size="13.8" font-weight="bold" fill="#141414" textLength="130.91" lengthAdjust="spacingAndGlyphs" style="white-space:pre">OUTSIDE DIAMETER</text>
<text x="825.43" y="533.5" font-size="12" font-weight="normal" fill="#141414" textLength="9.14" lengthAdjust="spacingAndGlyphs" style="white-space:pre">B</text>
<text x="662.96" y="572.3" font-size="12.5" font-weight="normal" fill="#141414" textLength="8.72" lengthAdjust="spacingAndGlyphs" style="white-space:pre">A</text>
<text x="995.70" y="572.3" font-size="12.5" font-weight="normal" fill="#141414" textLength="8.30" lengthAdjust="spacingAndGlyphs" style="white-space:pre">C</text>
<text x="700.90" y="610.6" font-size="21.5" font-weight="bold" fill="#141414" textLength="267.51" lengthAdjust="spacingAndGlyphs" style="white-space:pre">A- Thickness of Screw Head</text>
<text x="700.89" y="646.8" font-size="21.5" font-weight="bold" fill="#141414" textLength="208.73" lengthAdjust="spacingAndGlyphs" style="white-space:pre">B- Total Screw Length</text>
<text x="700.49" y="682.3" font-size="21.5" font-weight="bold" fill="#141414" textLength="283.72" lengthAdjust="spacingAndGlyphs" style="white-space:pre">C- Thickness of Screw Thread</text>
<text x="1027.45" y="806.7" font-size="15" font-weight="bold" fill="#141414" textLength="43.80" lengthAdjust="spacingAndGlyphs" style="white-space:pre">Buckle</text>
<text x="1030.59" y="823.5" font-size="15" font-weight="bold" fill="#141414" textLength="38.05" lengthAdjust="spacingAndGlyphs" style="white-space:pre">width</text>
<text x="815.38" y="907.5" font-size="15.5" font-weight="bold" fill="#141414" textLength="64.75" lengthAdjust="spacingAndGlyphs" style="white-space:pre">Measure</text>
<text x="813.18" y="929.3" font-size="15.5" font-weight="bold" fill="#141414" textLength="69.74" lengthAdjust="spacingAndGlyphs" style="white-space:pre">thickness</text>
<text x="819.00" y="950.6" font-size="15.5" font-weight="bold" fill="#141414" textLength="56.53" lengthAdjust="spacingAndGlyphs" style="white-space:pre">of strap</text>
<text x="810.37" y="973" font-size="15.5" font-weight="bold" fill="#141414" textLength="73.86" lengthAdjust="spacingAndGlyphs" style="white-space:pre">for buckle</text>
<text x="1000.79" y="967.6" font-size="16" font-weight="bold" fill="#141414" textLength="143.12" lengthAdjust="spacingAndGlyphs" style="white-space:pre">Thickness of strap</text>
<text x="1034.08" y="990.8" font-size="16" font-weight="bold" fill="#141414" textLength="79.85" lengthAdjust="spacingAndGlyphs" style="white-space:pre">for buckle</text>
</svg></body></html>
